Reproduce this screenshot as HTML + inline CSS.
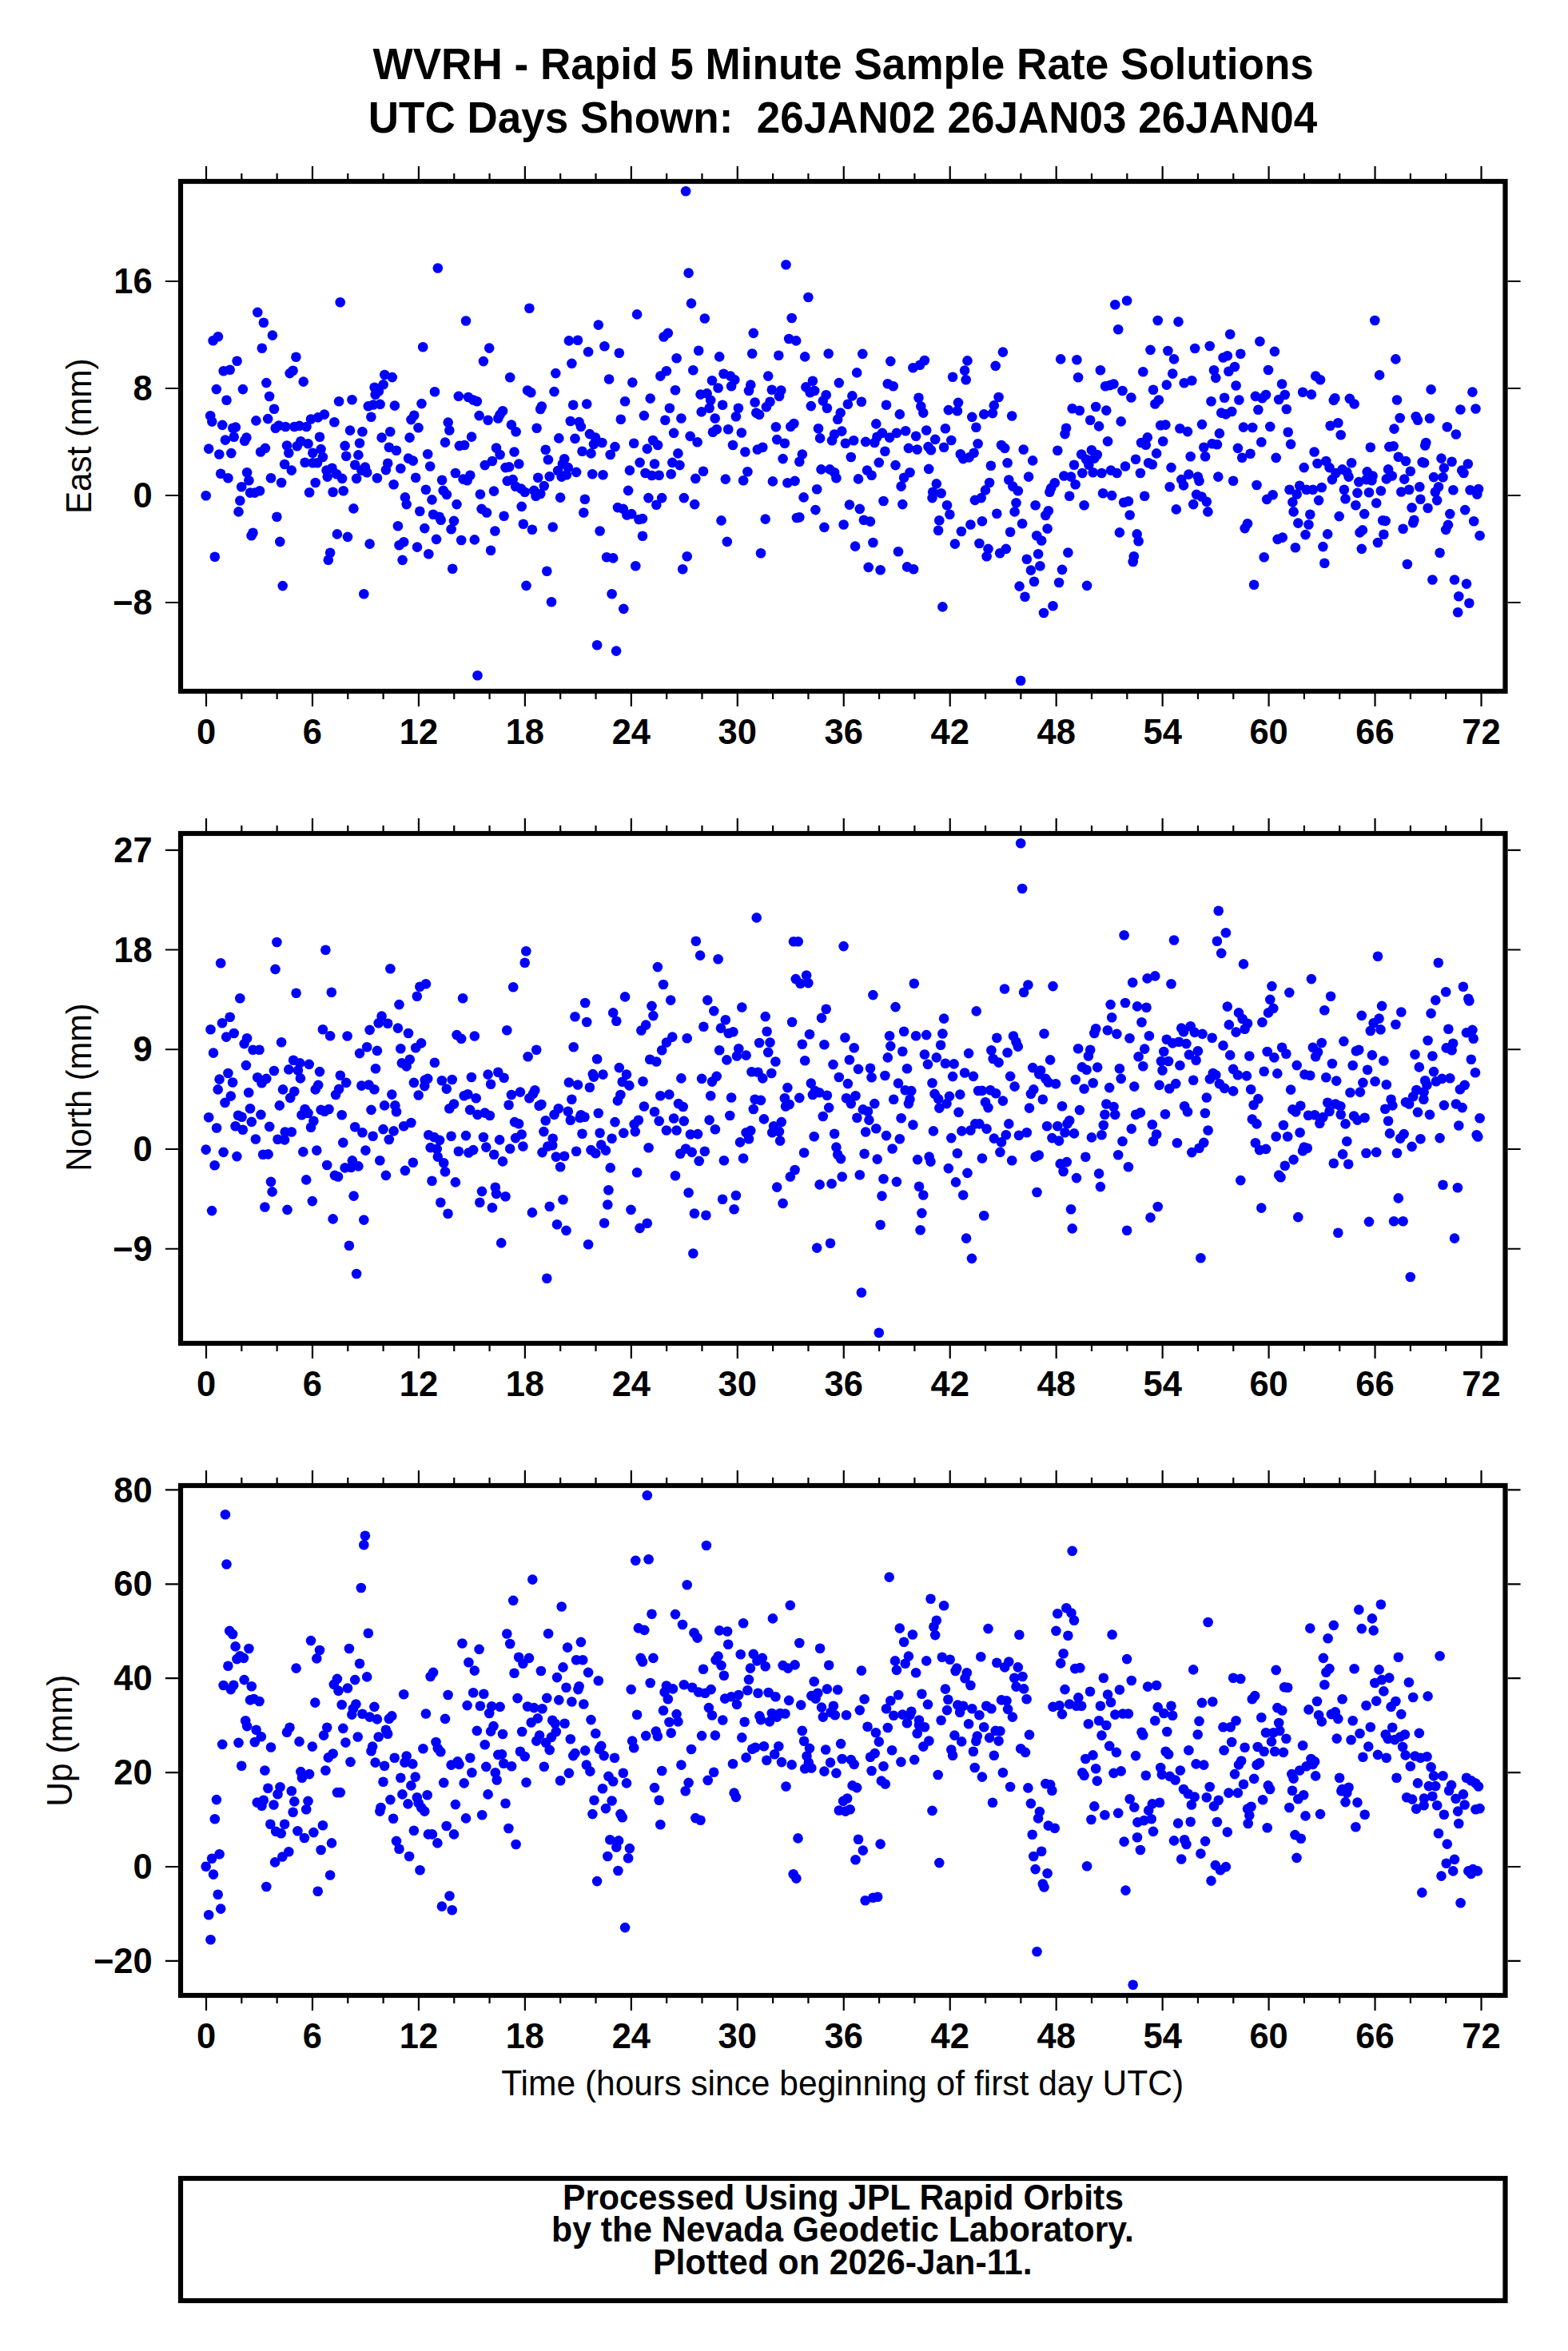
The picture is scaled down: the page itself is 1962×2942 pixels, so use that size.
<!DOCTYPE html>
<html><head><meta charset="utf-8"><style>
html,body{margin:0;padding:0;background:#fff;width:1962px;height:2942px;overflow:hidden}
svg{display:block}
</style></head><body>
<svg width="1962" height="2942" viewBox="0 0 1962 2942"><rect width="100%" height="100%" fill="#fff"/><g font-family="&quot;Liberation Sans&quot;, sans-serif" fill="#000"><text transform="matrix(0.53118 0 0 0.56377 466.50 98.90)" font-size="100" font-weight="bold" xml:space="preserve">WVRH - Rapid 5 Minute Sample Rate Solutions</text><text transform="matrix(0.53023 0 0 0.56377 460.82 165.90)" font-size="100" font-weight="bold" xml:space="preserve">UTC Days Shown:  26JAN02 26JAN03 26JAN04</text><text transform="matrix(0.42535 0 0 0.45072 627.15 2621.90)" font-size="100" font-weight="normal" xml:space="preserve">Time (hours since beginning of first day UTC)</text><text transform="matrix(0.42578 0 0 0.44638 704.02 2764.80)" font-size="100" font-weight="bold" xml:space="preserve">Processed Using JPL Rapid Orbits</text><text transform="matrix(0.42781 0 0 0.44638 690.01 2804.80)" font-size="100" font-weight="bold" xml:space="preserve">by the Nevada Geodetic Laboratory.</text><text transform="matrix(0.42714 0 0 0.44928 817.01 2846.00)" font-size="100" font-weight="bold" xml:space="preserve">Plotted on 2026-Jan-11.</text><text transform="matrix(0 -0.42215 0.44638 0 114.00 643.08)" font-size="100" font-weight="normal" xml:space="preserve">East (mm)</text><text transform="matrix(0 -0.41609 0.44493 0 113.80 1465.63)" font-size="100" font-weight="normal" xml:space="preserve">North (mm)</text><text transform="matrix(0 -0.42480 0.44928 0 90.00 2260.70)" font-size="100" font-weight="normal" xml:space="preserve">Up (mm)</text></g><path d="M258.00 223.90V207.90M258.00 868.10V884.10M302.32 223.90V216.90M302.32 868.10V875.10M346.64 223.90V216.90M346.64 868.10V875.10M390.96 223.90V207.90M390.96 868.10V884.10M435.28 223.90V216.90M435.28 868.10V875.10M479.60 223.90V216.90M479.60 868.10V875.10M523.92 223.90V207.90M523.92 868.10V884.10M568.24 223.90V216.90M568.24 868.10V875.10M612.56 223.90V216.90M612.56 868.10V875.10M656.88 223.90V207.90M656.88 868.10V884.10M701.20 223.90V216.90M701.20 868.10V875.10M745.52 223.90V216.90M745.52 868.10V875.10M789.84 223.90V207.90M789.84 868.10V884.10M834.16 223.90V216.90M834.16 868.10V875.10M878.48 223.90V216.90M878.48 868.10V875.10M922.80 223.90V207.90M922.80 868.10V884.10M967.12 223.90V216.90M967.12 868.10V875.10M1011.44 223.90V216.90M1011.44 868.10V875.10M1055.76 223.90V207.90M1055.76 868.10V884.10M1100.08 223.90V216.90M1100.08 868.10V875.10M1144.40 223.90V216.90M1144.40 868.10V875.10M1188.72 223.90V207.90M1188.72 868.10V884.10M1233.04 223.90V216.90M1233.04 868.10V875.10M1277.36 223.90V216.90M1277.36 868.10V875.10M1321.68 223.90V207.90M1321.68 868.10V884.10M1366.00 223.90V216.90M1366.00 868.10V875.10M1410.32 223.90V216.90M1410.32 868.10V875.10M1454.64 223.90V207.90M1454.64 868.10V884.10M1498.96 223.90V216.90M1498.96 868.10V875.10M1543.28 223.90V216.90M1543.28 868.10V875.10M1587.60 223.90V207.90M1587.60 868.10V884.10M1631.92 223.90V216.90M1631.92 868.10V875.10M1676.24 223.90V216.90M1676.24 868.10V875.10M1720.56 223.90V207.90M1720.56 868.10V884.10M1764.88 223.90V216.90M1764.88 868.10V875.10M1809.20 223.90V216.90M1809.20 868.10V875.10M1853.52 223.90V207.90M1853.52 868.10V884.10M222.90 352.00H206.90M1886.60 352.00H1902.60M222.90 486.00H206.90M1886.60 486.00H1902.60M222.90 620.00H206.90M1886.60 620.00H1902.60M222.90 754.00H206.90M1886.60 754.00H1902.60" stroke="#000" stroke-width="2.2" fill="none"/><g fill="#0000ff"><circle cx="547.8" cy="335.5" r="6.3"/><circle cx="425.7" cy="378.2" r="6.3"/><circle cx="322.3" cy="390.9" r="6.3"/><circle cx="329.9" cy="403.7" r="6.3"/><circle cx="340.9" cy="419.6" r="6.3"/><circle cx="272.9" cy="421.3" r="6.3"/><circle cx="266.6" cy="426.3" r="6.3"/><circle cx="327.8" cy="435.8" r="6.3"/><circle cx="529.2" cy="434.3" r="6.3"/><circle cx="370.4" cy="446.8" r="6.3"/><circle cx="296.6" cy="451.7" r="6.3"/><circle cx="279.7" cy="464.3" r="6.3"/><circle cx="287.7" cy="462.8" r="6.3"/><circle cx="366.6" cy="463.7" r="6.3"/><circle cx="362.6" cy="467.1" r="6.3"/><circle cx="379.7" cy="477.6" r="6.3"/><circle cx="333.3" cy="479.1" r="6.3"/><circle cx="481.3" cy="469.0" r="6.3"/><circle cx="490.8" cy="472.1" r="6.3"/><circle cx="479.6" cy="481.2" r="6.3"/><circle cx="468.6" cy="484.8" r="6.3"/><circle cx="473.9" cy="489.6" r="6.3"/><circle cx="469.7" cy="493.9" r="6.3"/><circle cx="270.8" cy="487.1" r="6.3"/><circle cx="303.9" cy="487.1" r="6.3"/><circle cx="283.5" cy="500.8" r="6.3"/><circle cx="337.1" cy="496.0" r="6.3"/><circle cx="544.0" cy="490.3" r="6.3"/><circle cx="424.1" cy="502.3" r="6.3"/><circle cx="440.5" cy="500.2" r="6.3"/><circle cx="460.8" cy="508.2" r="6.3"/><circle cx="467.1" cy="506.5" r="6.3"/><circle cx="475.6" cy="505.9" r="6.3"/><circle cx="493.9" cy="507.6" r="6.3"/><circle cx="527.5" cy="505.1" r="6.3"/><circle cx="343.0" cy="511.8" r="6.3"/><circle cx="518.2" cy="519.8" r="6.3"/><circle cx="514.4" cy="525.1" r="6.3"/><circle cx="263.2" cy="520.3" r="6.3"/><circle cx="265.3" cy="527.6" r="6.3"/><circle cx="320.4" cy="526.4" r="6.3"/><circle cx="335.2" cy="524.1" r="6.3"/><circle cx="405.9" cy="518.6" r="6.3"/><circle cx="397.9" cy="522.4" r="6.3"/><circle cx="389.0" cy="524.5" r="6.3"/><circle cx="418.4" cy="528.3" r="6.3"/><circle cx="464.4" cy="521.7" r="6.3"/><circle cx="278.2" cy="531.9" r="6.3"/><circle cx="291.3" cy="535.7" r="6.3"/><circle cx="294.9" cy="534.6" r="6.3"/><circle cx="344.7" cy="535.7" r="6.3"/><circle cx="348.9" cy="532.5" r="6.3"/><circle cx="357.3" cy="534.0" r="6.3"/><circle cx="368.3" cy="534.0" r="6.3"/><circle cx="374.7" cy="532.9" r="6.3"/><circle cx="383.5" cy="534.0" r="6.3"/><circle cx="438.0" cy="538.6" r="6.3"/><circle cx="453.4" cy="540.3" r="6.3"/><circle cx="488.2" cy="540.3" r="6.3"/><circle cx="523.5" cy="535.2" r="6.3"/><circle cx="281.9" cy="550.6" r="6.3"/><circle cx="292.7" cy="546.7" r="6.3"/><circle cx="306.1" cy="551.7" r="6.3"/><circle cx="308.4" cy="547.6" r="6.3"/><circle cx="400.0" cy="546.7" r="6.3"/><circle cx="450.0" cy="554.5" r="6.3"/><circle cx="477.6" cy="547.6" r="6.3"/><circle cx="512.6" cy="547.6" r="6.3"/><circle cx="557.0" cy="553.6" r="6.3"/><circle cx="261.2" cy="561.6" r="6.3"/><circle cx="274.3" cy="568.5" r="6.3"/><circle cx="289.3" cy="567.1" r="6.3"/><circle cx="326.1" cy="565.5" r="6.3"/><circle cx="331.9" cy="560.9" r="6.3"/><circle cx="359.0" cy="557.5" r="6.3"/><circle cx="361.3" cy="566.7" r="6.3"/><circle cx="371.7" cy="558.2" r="6.3"/><circle cx="376.3" cy="552.2" r="6.3"/><circle cx="385.5" cy="555.2" r="6.3"/><circle cx="391.3" cy="566.7" r="6.3"/><circle cx="401.6" cy="562.1" r="6.3"/><circle cx="403.9" cy="572.0" r="6.3"/><circle cx="431.6" cy="557.9" r="6.3"/><circle cx="433.2" cy="570.8" r="6.3"/><circle cx="448.4" cy="569.4" r="6.3"/><circle cx="486.8" cy="559.8" r="6.3"/><circle cx="496.0" cy="563.7" r="6.3"/><circle cx="511.0" cy="573.6" r="6.3"/><circle cx="516.8" cy="576.6" r="6.3"/><circle cx="535.2" cy="568.3" r="6.3"/><circle cx="538.2" cy="583.5" r="6.3"/><circle cx="356.1" cy="581.0" r="6.3"/><circle cx="364.8" cy="588.6" r="6.3"/><circle cx="381.6" cy="578.7" r="6.3"/><circle cx="391.3" cy="579.3" r="6.3"/><circle cx="397.0" cy="579.3" r="6.3"/><circle cx="408.5" cy="588.6" r="6.3"/><circle cx="415.5" cy="585.8" r="6.3"/><circle cx="409.7" cy="596.6" r="6.3"/><circle cx="421.2" cy="593.2" r="6.3"/><circle cx="428.1" cy="598.9" r="6.3"/><circle cx="444.2" cy="581.7" r="6.3"/><circle cx="456.9" cy="584.6" r="6.3"/><circle cx="452.3" cy="588.6" r="6.3"/><circle cx="459.2" cy="591.3" r="6.3"/><circle cx="446.1" cy="598.9" r="6.3"/><circle cx="471.9" cy="598.2" r="6.3"/><circle cx="485.2" cy="579.8" r="6.3"/><circle cx="482.9" cy="588.1" r="6.3"/><circle cx="501.3" cy="586.3" r="6.3"/><circle cx="520.2" cy="597.8" r="6.3"/><circle cx="276.2" cy="592.7" r="6.3"/><circle cx="285.4" cy="598.2" r="6.3"/><circle cx="309.1" cy="591.3" r="6.3"/><circle cx="311.4" cy="601.2" r="6.3"/><circle cx="339.0" cy="598.2" r="6.3"/><circle cx="352.1" cy="604.0" r="6.3"/><circle cx="553.1" cy="600.8" r="6.3"/><circle cx="394.7" cy="604.0" r="6.3"/><circle cx="387.1" cy="616.2" r="6.3"/><circle cx="416.6" cy="615.7" r="6.3"/><circle cx="429.7" cy="614.3" r="6.3"/><circle cx="492.6" cy="606.3" r="6.3"/><circle cx="532.9" cy="612.7" r="6.3"/><circle cx="554.7" cy="613.9" r="6.3"/><circle cx="558.9" cy="618.9" r="6.3"/><circle cx="302.2" cy="609.3" r="6.3"/><circle cx="313.0" cy="616.6" r="6.3"/><circle cx="318.8" cy="616.6" r="6.3"/><circle cx="325.0" cy="614.3" r="6.3"/><circle cx="257.7" cy="620.3" r="6.3"/><circle cx="506.9" cy="622.4" r="6.3"/><circle cx="508.7" cy="631.1" r="6.3"/><circle cx="540.5" cy="625.4" r="6.3"/><circle cx="300.3" cy="626.5" r="6.3"/><circle cx="298.5" cy="640.4" r="6.3"/><circle cx="346.4" cy="646.8" r="6.3"/><circle cx="442.4" cy="636.4" r="6.3"/><circle cx="525.3" cy="639.7" r="6.3"/><circle cx="542.1" cy="643.8" r="6.3"/><circle cx="549.7" cy="646.8" r="6.3"/><circle cx="551.7" cy="650.7" r="6.3"/><circle cx="497.9" cy="658.3" r="6.3"/><circle cx="531.3" cy="661.1" r="6.3"/><circle cx="316.5" cy="666.8" r="6.3"/><circle cx="314.6" cy="670.3" r="6.3"/><circle cx="421.9" cy="668.4" r="6.3"/><circle cx="435.0" cy="671.9" r="6.3"/><circle cx="350.3" cy="677.9" r="6.3"/><circle cx="462.6" cy="680.6" r="6.3"/><circle cx="499.5" cy="682.3" r="6.3"/><circle cx="505.2" cy="678.3" r="6.3"/><circle cx="522.0" cy="684.6" r="6.3"/><circle cx="546.0" cy="674.9" r="6.3"/><circle cx="413.1" cy="691.7" r="6.3"/><circle cx="410.8" cy="700.7" r="6.3"/><circle cx="268.8" cy="696.8" r="6.3"/><circle cx="503.6" cy="700.9" r="6.3"/><circle cx="536.3" cy="693.3" r="6.3"/><circle cx="353.7" cy="733.1" r="6.3"/><circle cx="455.3" cy="743.3" r="6.3"/><circle cx="858.1" cy="239.2" r="6.3"/><circle cx="861.6" cy="341.6" r="6.3"/><circle cx="865.0" cy="379.6" r="6.3"/><circle cx="881.8" cy="398.5" r="6.3"/><circle cx="662.4" cy="385.8" r="6.3"/><circle cx="583.0" cy="401.5" r="6.3"/><circle cx="797.1" cy="393.4" r="6.3"/><circle cx="748.8" cy="406.6" r="6.3"/><circle cx="830.5" cy="421.5" r="6.3"/><circle cx="835.8" cy="416.9" r="6.3"/><circle cx="711.9" cy="426.4" r="6.3"/><circle cx="723.0" cy="425.7" r="6.3"/><circle cx="756.4" cy="433.3" r="6.3"/><circle cx="736.1" cy="440.2" r="6.3"/><circle cx="774.8" cy="441.8" r="6.3"/><circle cx="612.2" cy="435.6" r="6.3"/><circle cx="604.9" cy="452.1" r="6.3"/><circle cx="874.2" cy="438.8" r="6.3"/><circle cx="846.6" cy="448.2" r="6.3"/><circle cx="715.4" cy="454.9" r="6.3"/><circle cx="695.3" cy="467.1" r="6.3"/><circle cx="638.2" cy="472.2" r="6.3"/><circle cx="867.3" cy="463.2" r="6.3"/><circle cx="833.9" cy="464.3" r="6.3"/><circle cx="826.3" cy="470.6" r="6.3"/><circle cx="762.1" cy="474.5" r="6.3"/><circle cx="791.3" cy="478.6" r="6.3"/><circle cx="891.0" cy="476.3" r="6.3"/><circle cx="660.1" cy="488.5" r="6.3"/><circle cx="664.3" cy="491.3" r="6.3"/><circle cx="693.5" cy="490.1" r="6.3"/><circle cx="573.8" cy="495.9" r="6.3"/><circle cx="586.0" cy="497.0" r="6.3"/><circle cx="592.2" cy="500.5" r="6.3"/><circle cx="596.8" cy="502.3" r="6.3"/><circle cx="845.0" cy="488.3" r="6.3"/><circle cx="876.5" cy="493.6" r="6.3"/><circle cx="884.6" cy="492.4" r="6.3"/><circle cx="889.2" cy="500.9" r="6.3"/><circle cx="887.6" cy="510.8" r="6.3"/><circle cx="782.1" cy="502.3" r="6.3"/><circle cx="813.7" cy="498.6" r="6.3"/><circle cx="717.2" cy="506.7" r="6.3"/><circle cx="734.2" cy="505.5" r="6.3"/><circle cx="677.8" cy="508.5" r="6.3"/><circle cx="676.2" cy="512.0" r="6.3"/><circle cx="837.9" cy="510.8" r="6.3"/><circle cx="629.0" cy="514.3" r="6.3"/><circle cx="625.6" cy="518.9" r="6.3"/><circle cx="623.3" cy="523.5" r="6.3"/><circle cx="599.6" cy="520.1" r="6.3"/><circle cx="610.6" cy="525.8" r="6.3"/><circle cx="560.7" cy="528.6" r="6.3"/><circle cx="562.3" cy="538.5" r="6.3"/><circle cx="877.7" cy="515.4" r="6.3"/><circle cx="894.7" cy="523.5" r="6.3"/><circle cx="852.4" cy="523.5" r="6.3"/><circle cx="832.3" cy="525.8" r="6.3"/><circle cx="805.9" cy="520.1" r="6.3"/><circle cx="776.8" cy="524.7" r="6.3"/><circle cx="713.8" cy="527.0" r="6.3"/><circle cx="724.6" cy="528.1" r="6.3"/><circle cx="726.9" cy="533.9" r="6.3"/><circle cx="639.9" cy="531.6" r="6.3"/><circle cx="645.6" cy="540.3" r="6.3"/><circle cx="671.6" cy="535.7" r="6.3"/><circle cx="843.1" cy="541.9" r="6.3"/><circle cx="863.6" cy="545.9" r="6.3"/><circle cx="892.0" cy="540.8" r="6.3"/><circle cx="896.8" cy="537.3" r="6.3"/><circle cx="737.9" cy="543.1" r="6.3"/><circle cx="745.1" cy="547.6" r="6.3"/><circle cx="590.1" cy="546.6" r="6.3"/><circle cx="699.3" cy="548.4" r="6.3"/><circle cx="719.5" cy="548.9" r="6.3"/><circle cx="574.9" cy="557.9" r="6.3"/><circle cx="581.1" cy="557.0" r="6.3"/><circle cx="621.0" cy="560.5" r="6.3"/><circle cx="625.6" cy="569.0" r="6.3"/><circle cx="643.5" cy="565.5" r="6.3"/><circle cx="682.7" cy="562.8" r="6.3"/><circle cx="743.0" cy="555.9" r="6.3"/><circle cx="753.4" cy="554.0" r="6.3"/><circle cx="769.5" cy="559.1" r="6.3"/><circle cx="728.5" cy="564.8" r="6.3"/><circle cx="739.5" cy="567.4" r="6.3"/><circle cx="763.7" cy="569.0" r="6.3"/><circle cx="793.2" cy="554.7" r="6.3"/><circle cx="817.1" cy="551.0" r="6.3"/><circle cx="823.1" cy="557.0" r="6.3"/><circle cx="809.8" cy="561.6" r="6.3"/><circle cx="872.6" cy="553.3" r="6.3"/><circle cx="848.4" cy="567.4" r="6.3"/><circle cx="606.7" cy="582.1" r="6.3"/><circle cx="615.9" cy="577.0" r="6.3"/><circle cx="632.5" cy="585.1" r="6.3"/><circle cx="637.1" cy="584.4" r="6.3"/><circle cx="649.3" cy="580.5" r="6.3"/><circle cx="569.9" cy="592.0" r="6.3"/><circle cx="579.5" cy="599.6" r="6.3"/><circle cx="584.6" cy="601.2" r="6.3"/><circle cx="588.3" cy="594.8" r="6.3"/><circle cx="634.8" cy="601.9" r="6.3"/><circle cx="641.7" cy="600.1" r="6.3"/><circle cx="645.1" cy="608.8" r="6.3"/><circle cx="652.1" cy="611.6" r="6.3"/><circle cx="656.7" cy="615.7" r="6.3"/><circle cx="668.2" cy="613.9" r="6.3"/><circle cx="670.5" cy="620.8" r="6.3"/><circle cx="676.2" cy="618.0" r="6.3"/><circle cx="680.8" cy="608.1" r="6.3"/><circle cx="673.2" cy="597.8" r="6.3"/><circle cx="687.7" cy="596.2" r="6.3"/><circle cx="685.9" cy="575.2" r="6.3"/><circle cx="706.2" cy="574.3" r="6.3"/><circle cx="703.9" cy="580.5" r="6.3"/><circle cx="710.8" cy="585.1" r="6.3"/><circle cx="698.1" cy="589.0" r="6.3"/><circle cx="702.7" cy="596.6" r="6.3"/><circle cx="708.9" cy="594.3" r="6.3"/><circle cx="721.1" cy="590.9" r="6.3"/><circle cx="741.2" cy="593.2" r="6.3"/><circle cx="754.5" cy="594.3" r="6.3"/><circle cx="787.9" cy="588.6" r="6.3"/><circle cx="800.6" cy="578.9" r="6.3"/><circle cx="819.0" cy="580.5" r="6.3"/><circle cx="807.5" cy="592.0" r="6.3"/><circle cx="815.5" cy="595.0" r="6.3"/><circle cx="824.7" cy="594.8" r="6.3"/><circle cx="839.7" cy="593.2" r="6.3"/><circle cx="841.3" cy="578.9" r="6.3"/><circle cx="850.5" cy="582.1" r="6.3"/><circle cx="880.0" cy="589.7" r="6.3"/><circle cx="870.3" cy="598.9" r="6.3"/><circle cx="600.9" cy="618.5" r="6.3"/><circle cx="618.0" cy="614.6" r="6.3"/><circle cx="571.5" cy="631.1" r="6.3"/><circle cx="701.1" cy="622.6" r="6.3"/><circle cx="731.9" cy="624.7" r="6.3"/><circle cx="786.1" cy="613.9" r="6.3"/><circle cx="811.4" cy="623.1" r="6.3"/><circle cx="828.2" cy="623.1" r="6.3"/><circle cx="821.3" cy="631.8" r="6.3"/><circle cx="855.8" cy="623.1" r="6.3"/><circle cx="869.2" cy="631.1" r="6.3"/><circle cx="602.6" cy="636.9" r="6.3"/><circle cx="609.0" cy="641.5" r="6.3"/><circle cx="630.6" cy="645.7" r="6.3"/><circle cx="652.7" cy="633.9" r="6.3"/><circle cx="568.0" cy="651.9" r="6.3"/><circle cx="564.6" cy="662.2" r="6.3"/><circle cx="730.3" cy="641.5" r="6.3"/><circle cx="772.9" cy="635.1" r="6.3"/><circle cx="779.8" cy="636.9" r="6.3"/><circle cx="784.4" cy="644.5" r="6.3"/><circle cx="790.2" cy="643.1" r="6.3"/><circle cx="799.4" cy="650.0" r="6.3"/><circle cx="804.0" cy="649.1" r="6.3"/><circle cx="654.8" cy="655.8" r="6.3"/><circle cx="665.9" cy="662.7" r="6.3"/><circle cx="691.7" cy="659.5" r="6.3"/><circle cx="619.4" cy="664.5" r="6.3"/><circle cx="750.6" cy="664.5" r="6.3"/><circle cx="804.0" cy="670.7" r="6.3"/><circle cx="577.2" cy="676.0" r="6.3"/><circle cx="593.8" cy="675.4" r="6.3"/><circle cx="614.1" cy="688.7" r="6.3"/><circle cx="759.1" cy="697.2" r="6.3"/><circle cx="767.2" cy="698.4" r="6.3"/><circle cx="859.7" cy="696.3" r="6.3"/><circle cx="795.3" cy="708.3" r="6.3"/><circle cx="854.2" cy="712.2" r="6.3"/><circle cx="566.2" cy="711.7" r="6.3"/><circle cx="684.3" cy="714.7" r="6.3"/><circle cx="658.5" cy="732.9" r="6.3"/><circle cx="765.6" cy="743.3" r="6.3"/><circle cx="690.0" cy="753.2" r="6.3"/><circle cx="780.3" cy="761.9" r="6.3"/><circle cx="747.1" cy="807.3" r="6.3"/><circle cx="771.1" cy="814.6" r="6.3"/><circle cx="597.5" cy="845.3" r="6.3"/><circle cx="983.5" cy="331.3" r="6.3"/><circle cx="1011.4" cy="372.0" r="6.3"/><circle cx="990.7" cy="398.0" r="6.3"/><circle cx="942.8" cy="416.9" r="6.3"/><circle cx="987.2" cy="424.0" r="6.3"/><circle cx="996.2" cy="426.4" r="6.3"/><circle cx="900.2" cy="446.4" r="6.3"/><circle cx="941.2" cy="442.5" r="6.3"/><circle cx="974.3" cy="444.8" r="6.3"/><circle cx="1007.2" cy="446.4" r="6.3"/><circle cx="1036.7" cy="442.5" r="6.3"/><circle cx="1079.3" cy="442.9" r="6.3"/><circle cx="1114.3" cy="452.1" r="6.3"/><circle cx="1142.4" cy="460.2" r="6.3"/><circle cx="1151.1" cy="456.7" r="6.3"/><circle cx="1156.9" cy="451.0" r="6.3"/><circle cx="1210.5" cy="451.4" r="6.3"/><circle cx="1207.1" cy="463.6" r="6.3"/><circle cx="1208.7" cy="475.2" r="6.3"/><circle cx="1192.1" cy="471.7" r="6.3"/><circle cx="1072.2" cy="466.4" r="6.3"/><circle cx="905.5" cy="467.8" r="6.3"/><circle cx="914.0" cy="470.6" r="6.3"/><circle cx="919.3" cy="475.2" r="6.3"/><circle cx="915.1" cy="483.2" r="6.3"/><circle cx="898.6" cy="485.5" r="6.3"/><circle cx="961.2" cy="470.6" r="6.3"/><circle cx="939.3" cy="481.6" r="6.3"/><circle cx="937.0" cy="489.0" r="6.3"/><circle cx="1016.9" cy="476.8" r="6.3"/><circle cx="1008.4" cy="484.4" r="6.3"/><circle cx="1013.7" cy="491.3" r="6.3"/><circle cx="1019.2" cy="489.0" r="6.3"/><circle cx="965.8" cy="487.8" r="6.3"/><circle cx="977.3" cy="488.5" r="6.3"/><circle cx="975.0" cy="495.9" r="6.3"/><circle cx="1049.8" cy="479.1" r="6.3"/><circle cx="1110.8" cy="480.2" r="6.3"/><circle cx="1117.7" cy="483.2" r="6.3"/><circle cx="1149.5" cy="497.7" r="6.3"/><circle cx="1152.3" cy="508.5" r="6.3"/><circle cx="1155.3" cy="516.6" r="6.3"/><circle cx="1033.7" cy="494.3" r="6.3"/><circle cx="1029.8" cy="501.6" r="6.3"/><circle cx="1034.9" cy="510.8" r="6.3"/><circle cx="1066.4" cy="495.4" r="6.3"/><circle cx="1077.9" cy="502.8" r="6.3"/><circle cx="1060.9" cy="505.8" r="6.3"/><circle cx="1109.0" cy="506.7" r="6.3"/><circle cx="1199.0" cy="503.9" r="6.3"/><circle cx="1186.8" cy="513.1" r="6.3"/><circle cx="1197.9" cy="514.3" r="6.3"/><circle cx="904.1" cy="506.7" r="6.3"/><circle cx="923.9" cy="510.8" r="6.3"/><circle cx="920.9" cy="521.2" r="6.3"/><circle cx="944.6" cy="503.5" r="6.3"/><circle cx="963.5" cy="502.8" r="6.3"/><circle cx="958.9" cy="509.2" r="6.3"/><circle cx="946.2" cy="516.6" r="6.3"/><circle cx="950.1" cy="518.9" r="6.3"/><circle cx="1014.8" cy="508.1" r="6.3"/><circle cx="1051.7" cy="516.6" r="6.3"/><circle cx="1048.2" cy="524.7" r="6.3"/><circle cx="1125.8" cy="518.4" r="6.3"/><circle cx="1216.3" cy="521.9" r="6.3"/><circle cx="911.2" cy="537.3" r="6.3"/><circle cx="927.8" cy="541.5" r="6.3"/><circle cx="970.9" cy="534.3" r="6.3"/><circle cx="989.3" cy="533.9" r="6.3"/><circle cx="993.4" cy="530.0" r="6.3"/><circle cx="1024.0" cy="536.2" r="6.3"/><circle cx="1096.3" cy="530.4" r="6.3"/><circle cx="1221.4" cy="534.8" r="6.3"/><circle cx="1182.9" cy="536.2" r="6.3"/><circle cx="1159.2" cy="538.5" r="6.3"/><circle cx="1133.2" cy="539.2" r="6.3"/><circle cx="1121.9" cy="541.9" r="6.3"/><circle cx="1103.9" cy="541.9" r="6.3"/><circle cx="1097.4" cy="546.8" r="6.3"/><circle cx="1113.1" cy="547.6" r="6.3"/><circle cx="1146.1" cy="545.7" r="6.3"/><circle cx="1026.1" cy="548.4" r="6.3"/><circle cx="1044.1" cy="543.5" r="6.3"/><circle cx="1053.3" cy="539.6" r="6.3"/><circle cx="1041.1" cy="551.3" r="6.3"/><circle cx="1057.9" cy="554.7" r="6.3"/><circle cx="1068.2" cy="551.3" r="6.3"/><circle cx="1083.2" cy="552.9" r="6.3"/><circle cx="1094.3" cy="554.0" r="6.3"/><circle cx="1170.2" cy="549.9" r="6.3"/><circle cx="1190.3" cy="551.0" r="6.3"/><circle cx="1223.6" cy="555.2" r="6.3"/><circle cx="917.0" cy="557.0" r="6.3"/><circle cx="932.4" cy="565.5" r="6.3"/><circle cx="947.8" cy="562.5" r="6.3"/><circle cx="954.3" cy="559.8" r="6.3"/><circle cx="972.2" cy="550.1" r="6.3"/><circle cx="981.9" cy="554.7" r="6.3"/><circle cx="979.6" cy="574.1" r="6.3"/><circle cx="1003.8" cy="568.5" r="6.3"/><circle cx="1000.3" cy="577.7" r="6.3"/><circle cx="1064.8" cy="572.0" r="6.3"/><circle cx="1107.4" cy="564.8" r="6.3"/><circle cx="1136.9" cy="560.9" r="6.3"/><circle cx="1147.7" cy="562.5" r="6.3"/><circle cx="1161.5" cy="559.1" r="6.3"/><circle cx="1164.9" cy="563.2" r="6.3"/><circle cx="1181.1" cy="559.8" r="6.3"/><circle cx="1201.8" cy="568.3" r="6.3"/><circle cx="1205.2" cy="574.1" r="6.3"/><circle cx="1212.6" cy="572.4" r="6.3"/><circle cx="1218.6" cy="566.7" r="6.3"/><circle cx="935.4" cy="590.2" r="6.3"/><circle cx="907.8" cy="599.6" r="6.3"/><circle cx="930.1" cy="601.2" r="6.3"/><circle cx="966.9" cy="602.4" r="6.3"/><circle cx="985.4" cy="604.2" r="6.3"/><circle cx="994.6" cy="601.9" r="6.3"/><circle cx="1027.5" cy="587.4" r="6.3"/><circle cx="1038.3" cy="587.4" r="6.3"/><circle cx="1044.1" cy="591.3" r="6.3"/><circle cx="1046.4" cy="598.2" r="6.3"/><circle cx="1074.0" cy="599.4" r="6.3"/><circle cx="1085.0" cy="588.6" r="6.3"/><circle cx="1090.6" cy="594.8" r="6.3"/><circle cx="1099.8" cy="578.9" r="6.3"/><circle cx="1120.5" cy="582.1" r="6.3"/><circle cx="1138.5" cy="591.3" r="6.3"/><circle cx="1131.1" cy="597.8" r="6.3"/><circle cx="1127.6" cy="608.6" r="6.3"/><circle cx="1162.2" cy="586.9" r="6.3"/><circle cx="1171.8" cy="605.4" r="6.3"/><circle cx="1167.2" cy="615.7" r="6.3"/><circle cx="1177.6" cy="617.3" r="6.3"/><circle cx="1166.5" cy="623.1" r="6.3"/><circle cx="1185.0" cy="632.3" r="6.3"/><circle cx="1188.4" cy="643.8" r="6.3"/><circle cx="1175.3" cy="651.2" r="6.3"/><circle cx="1174.1" cy="663.8" r="6.3"/><circle cx="1219.9" cy="625.9" r="6.3"/><circle cx="1022.2" cy="612.3" r="6.3"/><circle cx="1005.6" cy="622.4" r="6.3"/><circle cx="1020.4" cy="638.1" r="6.3"/><circle cx="1062.9" cy="631.6" r="6.3"/><circle cx="1075.8" cy="636.9" r="6.3"/><circle cx="1105.5" cy="627.0" r="6.3"/><circle cx="1129.3" cy="631.1" r="6.3"/><circle cx="902.5" cy="651.4" r="6.3"/><circle cx="957.7" cy="649.6" r="6.3"/><circle cx="1000.3" cy="647.3" r="6.3"/><circle cx="996.9" cy="648.0" r="6.3"/><circle cx="1031.4" cy="659.9" r="6.3"/><circle cx="1055.6" cy="656.5" r="6.3"/><circle cx="1080.9" cy="650.7" r="6.3"/><circle cx="1089.0" cy="652.6" r="6.3"/><circle cx="1214.4" cy="656.5" r="6.3"/><circle cx="1202.9" cy="665.0" r="6.3"/><circle cx="909.8" cy="677.9" r="6.3"/><circle cx="952.0" cy="692.2" r="6.3"/><circle cx="1070.1" cy="683.6" r="6.3"/><circle cx="1092.4" cy="679.0" r="6.3"/><circle cx="1124.0" cy="690.3" r="6.3"/><circle cx="1194.9" cy="680.6" r="6.3"/><circle cx="1086.7" cy="709.9" r="6.3"/><circle cx="1101.6" cy="713.3" r="6.3"/><circle cx="1135.0" cy="709.4" r="6.3"/><circle cx="1143.1" cy="712.2" r="6.3"/><circle cx="1179.4" cy="759.4" r="6.3"/><circle cx="1395.3" cy="381.2" r="6.3"/><circle cx="1410.1" cy="376.2" r="6.3"/><circle cx="1399.2" cy="412.3" r="6.3"/><circle cx="1448.7" cy="401.0" r="6.3"/><circle cx="1474.5" cy="402.6" r="6.3"/><circle cx="1539.2" cy="418.3" r="6.3"/><circle cx="1254.9" cy="440.6" r="6.3"/><circle cx="1245.7" cy="457.9" r="6.3"/><circle cx="1327.2" cy="449.4" r="6.3"/><circle cx="1347.4" cy="450.3" r="6.3"/><circle cx="1349.1" cy="472.2" r="6.3"/><circle cx="1376.9" cy="463.2" r="6.3"/><circle cx="1439.5" cy="437.9" r="6.3"/><circle cx="1461.4" cy="439.0" r="6.3"/><circle cx="1469.0" cy="449.4" r="6.3"/><circle cx="1495.2" cy="436.0" r="6.3"/><circle cx="1513.7" cy="433.0" r="6.3"/><circle cx="1530.5" cy="447.5" r="6.3"/><circle cx="1535.8" cy="445.2" r="6.3"/><circle cx="1552.3" cy="442.7" r="6.3"/><circle cx="1430.3" cy="465.3" r="6.3"/><circle cx="1467.2" cy="467.6" r="6.3"/><circle cx="1519.0" cy="463.2" r="6.3"/><circle cx="1521.3" cy="472.9" r="6.3"/><circle cx="1537.4" cy="464.8" r="6.3"/><circle cx="1545.0" cy="459.0" r="6.3"/><circle cx="1546.6" cy="482.5" r="6.3"/><circle cx="1383.1" cy="483.2" r="6.3"/><circle cx="1388.9" cy="482.1" r="6.3"/><circle cx="1393.5" cy="480.5" r="6.3"/><circle cx="1404.5" cy="489.0" r="6.3"/><circle cx="1415.4" cy="497.5" r="6.3"/><circle cx="1443.0" cy="487.8" r="6.3"/><circle cx="1459.8" cy="481.6" r="6.3"/><circle cx="1481.7" cy="479.3" r="6.3"/><circle cx="1491.3" cy="476.3" r="6.3"/><circle cx="1449.9" cy="500.5" r="6.3"/><circle cx="1445.3" cy="505.5" r="6.3"/><circle cx="1249.6" cy="497.0" r="6.3"/><circle cx="1243.8" cy="507.4" r="6.3"/><circle cx="1242.0" cy="517.1" r="6.3"/><circle cx="1231.2" cy="518.4" r="6.3"/><circle cx="1266.2" cy="520.5" r="6.3"/><circle cx="1341.7" cy="511.3" r="6.3"/><circle cx="1350.9" cy="513.8" r="6.3"/><circle cx="1371.2" cy="509.0" r="6.3"/><circle cx="1384.3" cy="513.6" r="6.3"/><circle cx="1364.2" cy="525.8" r="6.3"/><circle cx="1375.1" cy="533.4" r="6.3"/><circle cx="1402.7" cy="527.4" r="6.3"/><circle cx="1334.1" cy="535.7" r="6.3"/><circle cx="1332.5" cy="543.1" r="6.3"/><circle cx="1515.5" cy="502.3" r="6.3"/><circle cx="1532.1" cy="497.7" r="6.3"/><circle cx="1550.4" cy="500.5" r="6.3"/><circle cx="1528.2" cy="516.6" r="6.3"/><circle cx="1533.9" cy="518.4" r="6.3"/><circle cx="1541.3" cy="515.0" r="6.3"/><circle cx="1452.2" cy="532.3" r="6.3"/><circle cx="1458.4" cy="531.6" r="6.3"/><circle cx="1476.4" cy="536.2" r="6.3"/><circle cx="1486.0" cy="540.1" r="6.3"/><circle cx="1504.0" cy="531.1" r="6.3"/><circle cx="1525.9" cy="542.4" r="6.3"/><circle cx="1555.9" cy="534.6" r="6.3"/><circle cx="1435.8" cy="547.4" r="6.3"/><circle cx="1253.0" cy="557.0" r="6.3"/><circle cx="1257.2" cy="560.9" r="6.3"/><circle cx="1280.7" cy="562.5" r="6.3"/><circle cx="1292.2" cy="576.4" r="6.3"/><circle cx="1260.6" cy="579.3" r="6.3"/><circle cx="1239.9" cy="582.8" r="6.3"/><circle cx="1323.3" cy="563.7" r="6.3"/><circle cx="1386.1" cy="552.2" r="6.3"/><circle cx="1428.0" cy="554.0" r="6.3"/><circle cx="1433.8" cy="556.8" r="6.3"/><circle cx="1455.2" cy="552.2" r="6.3"/><circle cx="1447.1" cy="567.4" r="6.3"/><circle cx="1421.1" cy="574.7" r="6.3"/><circle cx="1437.2" cy="579.3" r="6.3"/><circle cx="1441.8" cy="581.2" r="6.3"/><circle cx="1408.0" cy="583.5" r="6.3"/><circle cx="1426.9" cy="592.0" r="6.3"/><circle cx="1465.5" cy="585.1" r="6.3"/><circle cx="1489.7" cy="571.3" r="6.3"/><circle cx="1506.3" cy="559.8" r="6.3"/><circle cx="1508.1" cy="571.3" r="6.3"/><circle cx="1516.7" cy="555.2" r="6.3"/><circle cx="1522.9" cy="556.3" r="6.3"/><circle cx="1548.9" cy="560.9" r="6.3"/><circle cx="1554.2" cy="572.7" r="6.3"/><circle cx="1353.2" cy="568.5" r="6.3"/><circle cx="1365.9" cy="563.2" r="6.3"/><circle cx="1372.8" cy="569.0" r="6.3"/><circle cx="1359.0" cy="574.7" r="6.3"/><circle cx="1369.3" cy="573.6" r="6.3"/><circle cx="1362.4" cy="581.7" r="6.3"/><circle cx="1344.0" cy="581.7" r="6.3"/><circle cx="1354.3" cy="592.0" r="6.3"/><circle cx="1367.7" cy="591.3" r="6.3"/><circle cx="1378.5" cy="592.0" r="6.3"/><circle cx="1390.0" cy="588.6" r="6.3"/><circle cx="1397.6" cy="592.0" r="6.3"/><circle cx="1331.3" cy="595.5" r="6.3"/><circle cx="1340.1" cy="596.6" r="6.3"/><circle cx="1345.6" cy="606.3" r="6.3"/><circle cx="1319.8" cy="604.2" r="6.3"/><circle cx="1315.2" cy="610.9" r="6.3"/><circle cx="1313.4" cy="615.7" r="6.3"/><circle cx="1287.1" cy="596.6" r="6.3"/><circle cx="1262.3" cy="600.5" r="6.3"/><circle cx="1267.3" cy="608.6" r="6.3"/><circle cx="1273.8" cy="614.3" r="6.3"/><circle cx="1238.1" cy="604.0" r="6.3"/><circle cx="1233.0" cy="613.4" r="6.3"/><circle cx="1227.7" cy="623.1" r="6.3"/><circle cx="1338.2" cy="620.8" r="6.3"/><circle cx="1380.1" cy="617.3" r="6.3"/><circle cx="1391.2" cy="620.1" r="6.3"/><circle cx="1406.1" cy="628.8" r="6.3"/><circle cx="1411.9" cy="627.2" r="6.3"/><circle cx="1432.2" cy="620.8" r="6.3"/><circle cx="1463.7" cy="609.3" r="6.3"/><circle cx="1478.2" cy="600.1" r="6.3"/><circle cx="1487.4" cy="593.6" r="6.3"/><circle cx="1481.0" cy="607.4" r="6.3"/><circle cx="1498.9" cy="596.6" r="6.3"/><circle cx="1500.5" cy="601.9" r="6.3"/><circle cx="1524.3" cy="596.6" r="6.3"/><circle cx="1543.1" cy="601.7" r="6.3"/><circle cx="1497.1" cy="618.9" r="6.3"/><circle cx="1503.5" cy="621.5" r="6.3"/><circle cx="1509.8" cy="627.7" r="6.3"/><circle cx="1493.2" cy="631.1" r="6.3"/><circle cx="1511.4" cy="640.4" r="6.3"/><circle cx="1471.8" cy="637.4" r="6.3"/><circle cx="1271.5" cy="629.3" r="6.3"/><circle cx="1269.6" cy="640.4" r="6.3"/><circle cx="1295.6" cy="632.3" r="6.3"/><circle cx="1311.8" cy="639.2" r="6.3"/><circle cx="1308.3" cy="645.0" r="6.3"/><circle cx="1356.6" cy="632.3" r="6.3"/><circle cx="1413.7" cy="644.5" r="6.3"/><circle cx="1247.3" cy="642.7" r="6.3"/><circle cx="1228.9" cy="652.3" r="6.3"/><circle cx="1279.1" cy="655.3" r="6.3"/><circle cx="1310.6" cy="661.5" r="6.3"/><circle cx="1264.1" cy="665.7" r="6.3"/><circle cx="1297.2" cy="670.3" r="6.3"/><circle cx="1303.2" cy="676.5" r="6.3"/><circle cx="1400.9" cy="666.4" r="6.3"/><circle cx="1422.7" cy="668.4" r="6.3"/><circle cx="1424.6" cy="677.2" r="6.3"/><circle cx="1225.4" cy="680.0" r="6.3"/><circle cx="1236.5" cy="686.9" r="6.3"/><circle cx="1234.6" cy="696.3" r="6.3"/><circle cx="1251.2" cy="692.2" r="6.3"/><circle cx="1258.8" cy="686.9" r="6.3"/><circle cx="1299.1" cy="693.3" r="6.3"/><circle cx="1284.8" cy="699.8" r="6.3"/><circle cx="1301.4" cy="708.3" r="6.3"/><circle cx="1289.9" cy="713.6" r="6.3"/><circle cx="1336.4" cy="691.5" r="6.3"/><circle cx="1329.0" cy="712.9" r="6.3"/><circle cx="1418.8" cy="696.3" r="6.3"/><circle cx="1417.7" cy="703.0" r="6.3"/><circle cx="1294.0" cy="727.8" r="6.3"/><circle cx="1325.1" cy="729.0" r="6.3"/><circle cx="1275.6" cy="733.6" r="6.3"/><circle cx="1360.1" cy="732.9" r="6.3"/><circle cx="1282.5" cy="746.7" r="6.3"/><circle cx="1317.5" cy="758.2" r="6.3"/><circle cx="1306.0" cy="767.0" r="6.3"/><circle cx="1277.2" cy="851.7" r="6.3"/><circle cx="1720.3" cy="401.0" r="6.3"/><circle cx="1576.4" cy="427.3" r="6.3"/><circle cx="1594.9" cy="439.9" r="6.3"/><circle cx="1746.4" cy="449.4" r="6.3"/><circle cx="1587.0" cy="463.0" r="6.3"/><circle cx="1726.1" cy="469.4" r="6.3"/><circle cx="1646.2" cy="470.6" r="6.3"/><circle cx="1652.0" cy="475.2" r="6.3"/><circle cx="1604.1" cy="480.5" r="6.3"/><circle cx="1790.6" cy="487.4" r="6.3"/><circle cx="1842.4" cy="490.6" r="6.3"/><circle cx="1570.9" cy="495.9" r="6.3"/><circle cx="1579.4" cy="498.2" r="6.3"/><circle cx="1584.0" cy="494.0" r="6.3"/><circle cx="1600.2" cy="500.0" r="6.3"/><circle cx="1607.8" cy="494.0" r="6.3"/><circle cx="1630.1" cy="490.8" r="6.3"/><circle cx="1640.9" cy="493.6" r="6.3"/><circle cx="1670.4" cy="498.2" r="6.3"/><circle cx="1668.8" cy="500.9" r="6.3"/><circle cx="1688.8" cy="498.9" r="6.3"/><circle cx="1694.6" cy="505.5" r="6.3"/><circle cx="1748.0" cy="500.5" r="6.3"/><circle cx="1574.4" cy="512.7" r="6.3"/><circle cx="1609.8" cy="512.0" r="6.3"/><circle cx="1827.4" cy="512.5" r="6.3"/><circle cx="1846.5" cy="511.5" r="6.3"/><circle cx="1751.7" cy="523.0" r="6.3"/><circle cx="1771.7" cy="521.2" r="6.3"/><circle cx="1774.0" cy="525.8" r="6.3"/><circle cx="1789.0" cy="523.5" r="6.3"/><circle cx="1567.2" cy="535.0" r="6.3"/><circle cx="1589.3" cy="533.9" r="6.3"/><circle cx="1611.7" cy="540.8" r="6.3"/><circle cx="1664.6" cy="532.7" r="6.3"/><circle cx="1674.3" cy="529.3" r="6.3"/><circle cx="1677.7" cy="544.2" r="6.3"/><circle cx="1744.5" cy="536.6" r="6.3"/><circle cx="1810.8" cy="534.3" r="6.3"/><circle cx="1821.9" cy="543.5" r="6.3"/><circle cx="1564.5" cy="567.8" r="6.3"/><circle cx="1578.3" cy="553.3" r="6.3"/><circle cx="1615.1" cy="555.9" r="6.3"/><circle cx="1596.7" cy="572.9" r="6.3"/><circle cx="1644.6" cy="565.5" r="6.3"/><circle cx="1714.8" cy="559.8" r="6.3"/><circle cx="1738.3" cy="559.1" r="6.3"/><circle cx="1743.6" cy="558.2" r="6.3"/><circle cx="1784.3" cy="554.0" r="6.3"/><circle cx="1783.2" cy="557.5" r="6.3"/><circle cx="1803.5" cy="573.6" r="6.3"/><circle cx="1816.6" cy="577.7" r="6.3"/><circle cx="1836.8" cy="580.5" r="6.3"/><circle cx="1749.8" cy="571.8" r="6.3"/><circle cx="1759.0" cy="577.0" r="6.3"/><circle cx="1779.7" cy="578.2" r="6.3"/><circle cx="1782.0" cy="579.3" r="6.3"/><circle cx="1631.7" cy="585.1" r="6.3"/><circle cx="1648.5" cy="580.0" r="6.3"/><circle cx="1659.3" cy="577.0" r="6.3"/><circle cx="1663.5" cy="585.1" r="6.3"/><circle cx="1691.1" cy="579.3" r="6.3"/><circle cx="1572.5" cy="607.0" r="6.3"/><circle cx="1671.5" cy="592.0" r="6.3"/><circle cx="1679.6" cy="587.4" r="6.3"/><circle cx="1685.3" cy="590.9" r="6.3"/><circle cx="1687.6" cy="596.6" r="6.3"/><circle cx="1666.9" cy="600.1" r="6.3"/><circle cx="1710.7" cy="590.4" r="6.3"/><circle cx="1717.6" cy="595.5" r="6.3"/><circle cx="1709.5" cy="600.1" r="6.3"/><circle cx="1716.4" cy="601.2" r="6.3"/><circle cx="1700.3" cy="603.1" r="6.3"/><circle cx="1737.1" cy="587.4" r="6.3"/><circle cx="1741.8" cy="595.5" r="6.3"/><circle cx="1734.8" cy="599.4" r="6.3"/><circle cx="1764.8" cy="589.7" r="6.3"/><circle cx="1757.2" cy="599.6" r="6.3"/><circle cx="1806.9" cy="585.6" r="6.3"/><circle cx="1794.0" cy="597.1" r="6.3"/><circle cx="1805.5" cy="597.3" r="6.3"/><circle cx="1829.2" cy="588.6" r="6.3"/><circle cx="1831.5" cy="592.0" r="6.3"/><circle cx="1613.5" cy="612.7" r="6.3"/><circle cx="1626.2" cy="607.7" r="6.3"/><circle cx="1634.7" cy="612.7" r="6.3"/><circle cx="1642.8" cy="612.7" r="6.3"/><circle cx="1622.7" cy="618.5" r="6.3"/><circle cx="1653.8" cy="610.0" r="6.3"/><circle cx="1681.9" cy="612.7" r="6.3"/><circle cx="1698.5" cy="616.9" r="6.3"/><circle cx="1713.0" cy="616.2" r="6.3"/><circle cx="1727.9" cy="614.3" r="6.3"/><circle cx="1753.3" cy="615.5" r="6.3"/><circle cx="1763.2" cy="612.7" r="6.3"/><circle cx="1776.3" cy="609.3" r="6.3"/><circle cx="1800.0" cy="609.3" r="6.3"/><circle cx="1795.9" cy="615.7" r="6.3"/><circle cx="1818.4" cy="613.2" r="6.3"/><circle cx="1839.6" cy="613.2" r="6.3"/><circle cx="1850.0" cy="612.0" r="6.3"/><circle cx="1848.3" cy="618.5" r="6.3"/><circle cx="1592.6" cy="619.2" r="6.3"/><circle cx="1585.2" cy="624.9" r="6.3"/><circle cx="1617.4" cy="628.4" r="6.3"/><circle cx="1650.1" cy="626.1" r="6.3"/><circle cx="1683.5" cy="624.2" r="6.3"/><circle cx="1696.4" cy="632.3" r="6.3"/><circle cx="1722.2" cy="629.5" r="6.3"/><circle cx="1777.4" cy="624.7" r="6.3"/><circle cx="1798.2" cy="626.1" r="6.3"/><circle cx="1618.6" cy="640.4" r="6.3"/><circle cx="1639.3" cy="643.8" r="6.3"/><circle cx="1624.3" cy="654.6" r="6.3"/><circle cx="1637.5" cy="656.5" r="6.3"/><circle cx="1675.7" cy="646.1" r="6.3"/><circle cx="1707.2" cy="643.1" r="6.3"/><circle cx="1766.6" cy="635.3" r="6.3"/><circle cx="1786.6" cy="635.8" r="6.3"/><circle cx="1833.2" cy="638.1" r="6.3"/><circle cx="1814.3" cy="643.1" r="6.3"/><circle cx="1561.0" cy="655.3" r="6.3"/><circle cx="1557.6" cy="661.1" r="6.3"/><circle cx="1730.2" cy="651.2" r="6.3"/><circle cx="1733.7" cy="651.9" r="6.3"/><circle cx="1769.4" cy="650.7" r="6.3"/><circle cx="1768.2" cy="654.2" r="6.3"/><circle cx="1844.2" cy="652.3" r="6.3"/><circle cx="1812.0" cy="656.9" r="6.3"/><circle cx="1809.2" cy="662.9" r="6.3"/><circle cx="1755.6" cy="661.8" r="6.3"/><circle cx="1633.5" cy="669.1" r="6.3"/><circle cx="1661.2" cy="668.4" r="6.3"/><circle cx="1704.9" cy="663.4" r="6.3"/><circle cx="1701.5" cy="666.4" r="6.3"/><circle cx="1731.4" cy="668.7" r="6.3"/><circle cx="1851.6" cy="670.3" r="6.3"/><circle cx="1598.6" cy="674.9" r="6.3"/><circle cx="1604.8" cy="672.6" r="6.3"/><circle cx="1620.9" cy="685.3" r="6.3"/><circle cx="1655.4" cy="684.1" r="6.3"/><circle cx="1703.8" cy="686.9" r="6.3"/><circle cx="1724.0" cy="679.0" r="6.3"/><circle cx="1801.6" cy="691.7" r="6.3"/><circle cx="1581.7" cy="697.2" r="6.3"/><circle cx="1657.3" cy="704.8" r="6.3"/><circle cx="1760.9" cy="706.0" r="6.3"/><circle cx="1569.1" cy="731.8" r="6.3"/><circle cx="1792.4" cy="725.5" r="6.3"/><circle cx="1820.0" cy="725.5" r="6.3"/><circle cx="1835.0" cy="730.6" r="6.3"/><circle cx="1825.3" cy="746.3" r="6.3"/><circle cx="1838.4" cy="754.8" r="6.3"/><circle cx="1824.2" cy="766.3" r="6.3"/></g><rect x="226" y="227" width="1657.5" height="638" fill="none" stroke="#000" stroke-width="6.2"/><g font-family="&quot;Liberation Sans&quot;, sans-serif" font-weight="bold" font-size="43.5" fill="#000"><text x="258.00" y="930.6" text-anchor="middle">0</text><text x="390.96" y="930.6" text-anchor="middle">6</text><text x="523.92" y="930.6" text-anchor="middle">12</text><text x="656.88" y="930.6" text-anchor="middle">18</text><text x="789.84" y="930.6" text-anchor="middle">24</text><text x="922.80" y="930.6" text-anchor="middle">30</text><text x="1055.76" y="930.6" text-anchor="middle">36</text><text x="1188.72" y="930.6" text-anchor="middle">42</text><text x="1321.68" y="930.6" text-anchor="middle">48</text><text x="1454.64" y="930.6" text-anchor="middle">54</text><text x="1587.60" y="930.6" text-anchor="middle">60</text><text x="1720.56" y="930.6" text-anchor="middle">66</text><text x="1853.52" y="930.6" text-anchor="middle">72</text><text x="190.7" y="367.1" text-anchor="end">16</text><text x="190.7" y="501.1" text-anchor="end">8</text><text x="190.7" y="635.1" text-anchor="end">0</text><text x="190.7" y="769.1" text-anchor="end">−8</text></g><path d="M258.00 1039.90V1023.90M258.00 1684.10V1700.10M302.32 1039.90V1032.90M302.32 1684.10V1691.10M346.64 1039.90V1032.90M346.64 1684.10V1691.10M390.96 1039.90V1023.90M390.96 1684.10V1700.10M435.28 1039.90V1032.90M435.28 1684.10V1691.10M479.60 1039.90V1032.90M479.60 1684.10V1691.10M523.92 1039.90V1023.90M523.92 1684.10V1700.10M568.24 1039.90V1032.90M568.24 1684.10V1691.10M612.56 1039.90V1032.90M612.56 1684.10V1691.10M656.88 1039.90V1023.90M656.88 1684.10V1700.10M701.20 1039.90V1032.90M701.20 1684.10V1691.10M745.52 1039.90V1032.90M745.52 1684.10V1691.10M789.84 1039.90V1023.90M789.84 1684.10V1700.10M834.16 1039.90V1032.90M834.16 1684.10V1691.10M878.48 1039.90V1032.90M878.48 1684.10V1691.10M922.80 1039.90V1023.90M922.80 1684.10V1700.10M967.12 1039.90V1032.90M967.12 1684.10V1691.10M1011.44 1039.90V1032.90M1011.44 1684.10V1691.10M1055.76 1039.90V1023.90M1055.76 1684.10V1700.10M1100.08 1039.90V1032.90M1100.08 1684.10V1691.10M1144.40 1039.90V1032.90M1144.40 1684.10V1691.10M1188.72 1039.90V1023.90M1188.72 1684.10V1700.10M1233.04 1039.90V1032.90M1233.04 1684.10V1691.10M1277.36 1039.90V1032.90M1277.36 1684.10V1691.10M1321.68 1039.90V1023.90M1321.68 1684.10V1700.10M1366.00 1039.90V1032.90M1366.00 1684.10V1691.10M1410.32 1039.90V1032.90M1410.32 1684.10V1691.10M1454.64 1039.90V1023.90M1454.64 1684.10V1700.10M1498.96 1039.90V1032.90M1498.96 1684.10V1691.10M1543.28 1039.90V1032.90M1543.28 1684.10V1691.10M1587.60 1039.90V1023.90M1587.60 1684.10V1700.10M1631.92 1039.90V1032.90M1631.92 1684.10V1691.10M1676.24 1039.90V1032.90M1676.24 1684.10V1691.10M1720.56 1039.90V1023.90M1720.56 1684.10V1700.10M1764.88 1039.90V1032.90M1764.88 1684.10V1691.10M1809.20 1039.90V1032.90M1809.20 1684.10V1691.10M1853.52 1039.90V1023.90M1853.52 1684.10V1700.10M222.90 1063.78H206.90M1886.60 1063.78H1902.60M222.90 1188.52H206.90M1886.60 1188.52H1902.60M222.90 1313.26H206.90M1886.60 1313.26H1902.60M222.90 1438.00H206.90M1886.60 1438.00H1902.60M222.90 1562.74H206.90M1886.60 1562.74H1902.60" stroke="#000" stroke-width="2.2" fill="none"/><g fill="#0000ff"><circle cx="346.4" cy="1179.0" r="6.3"/><circle cx="407.4" cy="1188.7" r="6.3"/><circle cx="276.2" cy="1205.3" r="6.3"/><circle cx="344.5" cy="1212.9" r="6.3"/><circle cx="488.4" cy="1212.2" r="6.3"/><circle cx="532.9" cy="1231.3" r="6.3"/><circle cx="525.3" cy="1234.8" r="6.3"/><circle cx="521.8" cy="1246.7" r="6.3"/><circle cx="370.6" cy="1242.8" r="6.3"/><circle cx="414.8" cy="1241.7" r="6.3"/><circle cx="300.3" cy="1249.3" r="6.3"/><circle cx="499.5" cy="1257.1" r="6.3"/><circle cx="287.7" cy="1272.7" r="6.3"/><circle cx="278.0" cy="1280.3" r="6.3"/><circle cx="263.5" cy="1288.2" r="6.3"/><circle cx="292.7" cy="1293.0" r="6.3"/><circle cx="283.1" cy="1297.6" r="6.3"/><circle cx="309.1" cy="1299.2" r="6.3"/><circle cx="305.6" cy="1306.1" r="6.3"/><circle cx="316.5" cy="1313.7" r="6.3"/><circle cx="324.5" cy="1313.7" r="6.3"/><circle cx="267.0" cy="1317.6" r="6.3"/><circle cx="352.1" cy="1304.3" r="6.3"/><circle cx="403.9" cy="1288.2" r="6.3"/><circle cx="413.1" cy="1296.2" r="6.3"/><circle cx="434.6" cy="1296.5" r="6.3"/><circle cx="462.6" cy="1288.9" r="6.3"/><circle cx="477.6" cy="1271.6" r="6.3"/><circle cx="473.7" cy="1280.3" r="6.3"/><circle cx="485.2" cy="1280.8" r="6.3"/><circle cx="497.9" cy="1286.6" r="6.3"/><circle cx="511.0" cy="1293.0" r="6.3"/><circle cx="501.3" cy="1312.3" r="6.3"/><circle cx="520.2" cy="1311.2" r="6.3"/><circle cx="527.1" cy="1305.4" r="6.3"/><circle cx="459.2" cy="1310.3" r="6.3"/><circle cx="450.0" cy="1318.1" r="6.3"/><circle cx="471.9" cy="1314.9" r="6.3"/><circle cx="307.9" cy="1333.1" r="6.3"/><circle cx="367.1" cy="1326.8" r="6.3"/><circle cx="375.2" cy="1330.3" r="6.3"/><circle cx="386.7" cy="1331.9" r="6.3"/><circle cx="512.8" cy="1325.7" r="6.3"/><circle cx="502.9" cy="1330.3" r="6.3"/><circle cx="508.7" cy="1334.4" r="6.3"/><circle cx="543.9" cy="1329.8" r="6.3"/><circle cx="470.0" cy="1337.2" r="6.3"/><circle cx="285.4" cy="1343.0" r="6.3"/><circle cx="274.6" cy="1350.6" r="6.3"/><circle cx="291.1" cy="1354.5" r="6.3"/><circle cx="272.7" cy="1363.4" r="6.3"/><circle cx="342.9" cy="1340.0" r="6.3"/><circle cx="361.3" cy="1338.4" r="6.3"/><circle cx="372.9" cy="1339.5" r="6.3"/><circle cx="375.9" cy="1349.4" r="6.3"/><circle cx="400.0" cy="1341.1" r="6.3"/><circle cx="322.2" cy="1348.3" r="6.3"/><circle cx="333.3" cy="1349.9" r="6.3"/><circle cx="327.5" cy="1355.2" r="6.3"/><circle cx="425.8" cy="1345.7" r="6.3"/><circle cx="433.2" cy="1354.9" r="6.3"/><circle cx="517.9" cy="1354.9" r="6.3"/><circle cx="531.7" cy="1351.5" r="6.3"/><circle cx="535.2" cy="1349.9" r="6.3"/><circle cx="531.3" cy="1359.1" r="6.3"/><circle cx="552.9" cy="1352.2" r="6.3"/><circle cx="558.8" cy="1362.6" r="6.3"/><circle cx="398.2" cy="1357.9" r="6.3"/><circle cx="394.7" cy="1363.4" r="6.3"/><circle cx="452.3" cy="1358.6" r="6.3"/><circle cx="461.5" cy="1357.5" r="6.3"/><circle cx="468.4" cy="1363.2" r="6.3"/><circle cx="424.1" cy="1362.9" r="6.3"/><circle cx="354.0" cy="1363.4" r="6.3"/><circle cx="368.3" cy="1365.7" r="6.3"/><circle cx="288.8" cy="1371.6" r="6.3"/><circle cx="281.5" cy="1379.9" r="6.3"/><circle cx="311.2" cy="1367.3" r="6.3"/><circle cx="363.2" cy="1373.9" r="6.3"/><circle cx="349.8" cy="1383.4" r="6.3"/><circle cx="420.1" cy="1370.0" r="6.3"/><circle cx="490.3" cy="1369.6" r="6.3"/><circle cx="523.7" cy="1370.5" r="6.3"/><circle cx="481.1" cy="1383.4" r="6.3"/><circle cx="494.4" cy="1383.4" r="6.3"/><circle cx="496.0" cy="1391.2" r="6.3"/><circle cx="464.5" cy="1388.9" r="6.3"/><circle cx="261.2" cy="1398.3" r="6.3"/><circle cx="271.1" cy="1411.5" r="6.3"/><circle cx="298.0" cy="1395.8" r="6.3"/><circle cx="302.6" cy="1397.7" r="6.3"/><circle cx="294.6" cy="1409.2" r="6.3"/><circle cx="303.8" cy="1413.8" r="6.3"/><circle cx="313.0" cy="1387.3" r="6.3"/><circle cx="326.4" cy="1394.9" r="6.3"/><circle cx="314.8" cy="1403.9" r="6.3"/><circle cx="337.2" cy="1409.9" r="6.3"/><circle cx="319.9" cy="1425.5" r="6.3"/><circle cx="347.5" cy="1425.7" r="6.3"/><circle cx="356.7" cy="1416.5" r="6.3"/><circle cx="356.1" cy="1426.4" r="6.3"/><circle cx="364.8" cy="1416.5" r="6.3"/><circle cx="381.6" cy="1388.0" r="6.3"/><circle cx="377.5" cy="1395.3" r="6.3"/><circle cx="385.5" cy="1393.0" r="6.3"/><circle cx="392.4" cy="1402.7" r="6.3"/><circle cx="389.0" cy="1410.8" r="6.3"/><circle cx="401.6" cy="1388.9" r="6.3"/><circle cx="406.2" cy="1390.7" r="6.3"/><circle cx="411.5" cy="1388.0" r="6.3"/><circle cx="427.7" cy="1395.3" r="6.3"/><circle cx="444.2" cy="1410.3" r="6.3"/><circle cx="453.4" cy="1417.2" r="6.3"/><circle cx="466.6" cy="1421.8" r="6.3"/><circle cx="479.5" cy="1413.1" r="6.3"/><circle cx="492.6" cy="1415.4" r="6.3"/><circle cx="486.8" cy="1426.0" r="6.3"/><circle cx="505.2" cy="1409.2" r="6.3"/><circle cx="514.4" cy="1405.0" r="6.3"/><circle cx="536.3" cy="1420.2" r="6.3"/><circle cx="543.2" cy="1423.0" r="6.3"/><circle cx="550.1" cy="1426.9" r="6.3"/><circle cx="429.3" cy="1429.9" r="6.3"/><circle cx="257.7" cy="1438.6" r="6.3"/><circle cx="279.6" cy="1441.9" r="6.3"/><circle cx="296.4" cy="1447.1" r="6.3"/><circle cx="329.1" cy="1444.8" r="6.3"/><circle cx="335.6" cy="1444.4" r="6.3"/><circle cx="379.3" cy="1441.4" r="6.3"/><circle cx="396.3" cy="1439.6" r="6.3"/><circle cx="457.4" cy="1439.6" r="6.3"/><circle cx="538.6" cy="1436.1" r="6.3"/><circle cx="546.7" cy="1437.9" r="6.3"/><circle cx="547.8" cy="1447.6" r="6.3"/><circle cx="555.2" cy="1455.2" r="6.3"/><circle cx="557.0" cy="1466.3" r="6.3"/><circle cx="268.6" cy="1458.2" r="6.3"/><circle cx="409.2" cy="1458.0" r="6.3"/><circle cx="440.8" cy="1452.4" r="6.3"/><circle cx="431.6" cy="1461.4" r="6.3"/><circle cx="439.2" cy="1461.0" r="6.3"/><circle cx="448.4" cy="1459.4" r="6.3"/><circle cx="475.3" cy="1452.2" r="6.3"/><circle cx="516.8" cy="1454.7" r="6.3"/><circle cx="506.9" cy="1464.9" r="6.3"/><circle cx="418.9" cy="1470.9" r="6.3"/><circle cx="423.0" cy="1472.5" r="6.3"/><circle cx="482.9" cy="1470.9" r="6.3"/><circle cx="383.2" cy="1476.4" r="6.3"/><circle cx="339.0" cy="1478.9" r="6.3"/><circle cx="340.6" cy="1491.4" r="6.3"/><circle cx="540.5" cy="1477.8" r="6.3"/><circle cx="442.6" cy="1496.6" r="6.3"/><circle cx="390.8" cy="1503.1" r="6.3"/><circle cx="551.3" cy="1504.7" r="6.3"/><circle cx="331.4" cy="1510.5" r="6.3"/><circle cx="359.5" cy="1513.9" r="6.3"/><circle cx="265.1" cy="1515.1" r="6.3"/><circle cx="560.5" cy="1518.8" r="6.3"/><circle cx="416.6" cy="1525.4" r="6.3"/><circle cx="455.3" cy="1526.6" r="6.3"/><circle cx="436.9" cy="1558.8" r="6.3"/><circle cx="446.1" cy="1594.0" r="6.3"/><circle cx="870.8" cy="1177.7" r="6.3"/><circle cx="876.1" cy="1195.6" r="6.3"/><circle cx="658.3" cy="1190.3" r="6.3"/><circle cx="656.7" cy="1204.8" r="6.3"/><circle cx="822.9" cy="1210.1" r="6.3"/><circle cx="830.0" cy="1232.0" r="6.3"/><circle cx="642.2" cy="1235.2" r="6.3"/><circle cx="579.1" cy="1249.3" r="6.3"/><circle cx="782.1" cy="1247.4" r="6.3"/><circle cx="732.2" cy="1255.0" r="6.3"/><circle cx="839.2" cy="1251.6" r="6.3"/><circle cx="885.3" cy="1251.6" r="6.3"/><circle cx="815.5" cy="1258.9" r="6.3"/><circle cx="817.4" cy="1271.1" r="6.3"/><circle cx="719.5" cy="1272.3" r="6.3"/><circle cx="734.2" cy="1279.0" r="6.3"/><circle cx="767.2" cy="1267.4" r="6.3"/><circle cx="771.3" cy="1277.8" r="6.3"/><circle cx="808.2" cy="1282.6" r="6.3"/><circle cx="802.4" cy="1289.5" r="6.3"/><circle cx="880.4" cy="1284.7" r="6.3"/><circle cx="634.3" cy="1289.3" r="6.3"/><circle cx="571.5" cy="1295.1" r="6.3"/><circle cx="577.2" cy="1299.9" r="6.3"/><circle cx="593.8" cy="1296.5" r="6.3"/><circle cx="841.3" cy="1297.6" r="6.3"/><circle cx="833.9" cy="1304.5" r="6.3"/><circle cx="828.2" cy="1314.2" r="6.3"/><circle cx="859.7" cy="1299.2" r="6.3"/><circle cx="717.7" cy="1310.3" r="6.3"/><circle cx="671.2" cy="1313.7" r="6.3"/><circle cx="660.6" cy="1322.2" r="6.3"/><circle cx="747.1" cy="1325.2" r="6.3"/><circle cx="813.2" cy="1325.7" r="6.3"/><circle cx="821.3" cy="1328.5" r="6.3"/><circle cx="774.8" cy="1336.1" r="6.3"/><circle cx="565.7" cy="1351.0" r="6.3"/><circle cx="589.9" cy="1348.0" r="6.3"/><circle cx="610.6" cy="1344.6" r="6.3"/><circle cx="623.3" cy="1341.8" r="6.3"/><circle cx="630.6" cy="1348.7" r="6.3"/><circle cx="614.1" cy="1356.8" r="6.3"/><circle cx="741.8" cy="1344.1" r="6.3"/><circle cx="743.0" cy="1347.6" r="6.3"/><circle cx="754.5" cy="1344.6" r="6.3"/><circle cx="784.0" cy="1344.6" r="6.3"/><circle cx="778.7" cy="1353.8" r="6.3"/><circle cx="787.4" cy="1358.4" r="6.3"/><circle cx="804.5" cy="1353.3" r="6.3"/><circle cx="852.4" cy="1349.4" r="6.3"/><circle cx="878.1" cy="1349.9" r="6.3"/><circle cx="891.0" cy="1353.6" r="6.3"/><circle cx="711.9" cy="1354.5" r="6.3"/><circle cx="723.0" cy="1357.5" r="6.3"/><circle cx="737.9" cy="1360.8" r="6.3"/><circle cx="669.3" cy="1364.3" r="6.3"/><circle cx="562.3" cy="1387.3" r="6.3"/><circle cx="568.0" cy="1381.5" r="6.3"/><circle cx="580.7" cy="1371.2" r="6.3"/><circle cx="585.3" cy="1369.3" r="6.3"/><circle cx="595.7" cy="1374.2" r="6.3"/><circle cx="588.1" cy="1388.9" r="6.3"/><circle cx="597.5" cy="1394.9" r="6.3"/><circle cx="606.7" cy="1392.6" r="6.3"/><circle cx="612.9" cy="1396.0" r="6.3"/><circle cx="639.9" cy="1370.0" r="6.3"/><circle cx="650.9" cy="1366.6" r="6.3"/><circle cx="636.6" cy="1382.7" r="6.3"/><circle cx="662.4" cy="1374.2" r="6.3"/><circle cx="667.0" cy="1368.9" r="6.3"/><circle cx="674.6" cy="1383.8" r="6.3"/><circle cx="677.4" cy="1382.0" r="6.3"/><circle cx="682.7" cy="1402.3" r="6.3"/><circle cx="693.5" cy="1394.9" r="6.3"/><circle cx="698.8" cy="1387.3" r="6.3"/><circle cx="710.8" cy="1390.7" r="6.3"/><circle cx="713.8" cy="1401.8" r="6.3"/><circle cx="715.4" cy="1375.8" r="6.3"/><circle cx="726.9" cy="1395.3" r="6.3"/><circle cx="731.5" cy="1397.7" r="6.3"/><circle cx="725.7" cy="1398.8" r="6.3"/><circle cx="748.8" cy="1393.0" r="6.3"/><circle cx="776.4" cy="1370.0" r="6.3"/><circle cx="772.9" cy="1377.4" r="6.3"/><circle cx="769.5" cy="1404.1" r="6.3"/><circle cx="805.9" cy="1384.5" r="6.3"/><circle cx="819.0" cy="1391.2" r="6.3"/><circle cx="826.3" cy="1371.2" r="6.3"/><circle cx="837.4" cy="1369.6" r="6.3"/><circle cx="848.9" cy="1381.1" r="6.3"/><circle cx="854.7" cy="1385.0" r="6.3"/><circle cx="889.2" cy="1371.2" r="6.3"/><circle cx="824.7" cy="1402.9" r="6.3"/><circle cx="843.1" cy="1399.5" r="6.3"/><circle cx="855.8" cy="1402.9" r="6.3"/><circle cx="887.6" cy="1401.6" r="6.3"/><circle cx="833.9" cy="1414.5" r="6.3"/><circle cx="846.6" cy="1414.5" r="6.3"/><circle cx="863.9" cy="1419.5" r="6.3"/><circle cx="873.1" cy="1419.1" r="6.3"/><circle cx="798.9" cy="1401.8" r="6.3"/><circle cx="793.6" cy="1406.9" r="6.3"/><circle cx="794.8" cy="1416.1" r="6.3"/><circle cx="780.3" cy="1417.9" r="6.3"/><circle cx="765.6" cy="1424.8" r="6.3"/><circle cx="750.6" cy="1417.7" r="6.3"/><circle cx="728.5" cy="1418.8" r="6.3"/><circle cx="644.0" cy="1404.1" r="6.3"/><circle cx="649.1" cy="1406.2" r="6.3"/><circle cx="652.7" cy="1419.5" r="6.3"/><circle cx="645.1" cy="1424.1" r="6.3"/><circle cx="680.4" cy="1416.1" r="6.3"/><circle cx="691.7" cy="1424.8" r="6.3"/><circle cx="685.4" cy="1434.5" r="6.3"/><circle cx="691.2" cy="1433.3" r="6.3"/><circle cx="678.5" cy="1442.1" r="6.3"/><circle cx="695.8" cy="1447.6" r="6.3"/><circle cx="706.2" cy="1446.7" r="6.3"/><circle cx="701.1" cy="1460.3" r="6.3"/><circle cx="721.1" cy="1440.7" r="6.3"/><circle cx="739.5" cy="1439.1" r="6.3"/><circle cx="745.3" cy="1443.2" r="6.3"/><circle cx="752.2" cy="1432.6" r="6.3"/><circle cx="758.0" cy="1439.6" r="6.3"/><circle cx="564.6" cy="1421.8" r="6.3"/><circle cx="583.0" cy="1421.1" r="6.3"/><circle cx="604.9" cy="1423.0" r="6.3"/><circle cx="625.1" cy="1426.4" r="6.3"/><circle cx="573.8" cy="1440.7" r="6.3"/><circle cx="586.4" cy="1442.5" r="6.3"/><circle cx="592.2" cy="1439.1" r="6.3"/><circle cx="608.3" cy="1435.6" r="6.3"/><circle cx="618.2" cy="1444.8" r="6.3"/><circle cx="629.0" cy="1453.4" r="6.3"/><circle cx="638.2" cy="1437.5" r="6.3"/><circle cx="654.4" cy="1434.5" r="6.3"/><circle cx="811.6" cy="1436.3" r="6.3"/><circle cx="851.2" cy="1443.7" r="6.3"/><circle cx="858.1" cy="1437.5" r="6.3"/><circle cx="865.7" cy="1441.9" r="6.3"/><circle cx="881.8" cy="1440.7" r="6.3"/><circle cx="874.7" cy="1452.9" r="6.3"/><circle cx="763.7" cy="1461.4" r="6.3"/><circle cx="797.1" cy="1467.2" r="6.3"/><circle cx="845.0" cy="1471.3" r="6.3"/><circle cx="569.9" cy="1479.4" r="6.3"/><circle cx="603.0" cy="1490.9" r="6.3"/><circle cx="619.8" cy="1485.8" r="6.3"/><circle cx="621.0" cy="1493.9" r="6.3"/><circle cx="632.5" cy="1497.3" r="6.3"/><circle cx="600.3" cy="1504.7" r="6.3"/><circle cx="615.9" cy="1511.2" r="6.3"/><circle cx="761.4" cy="1489.3" r="6.3"/><circle cx="760.3" cy="1507.5" r="6.3"/><circle cx="861.6" cy="1492.5" r="6.3"/><circle cx="704.5" cy="1501.3" r="6.3"/><circle cx="687.7" cy="1509.8" r="6.3"/><circle cx="665.9" cy="1517.4" r="6.3"/><circle cx="789.5" cy="1513.9" r="6.3"/><circle cx="868.9" cy="1518.5" r="6.3"/><circle cx="883.4" cy="1520.8" r="6.3"/><circle cx="756.1" cy="1530.5" r="6.3"/><circle cx="697.0" cy="1532.3" r="6.3"/><circle cx="708.5" cy="1539.9" r="6.3"/><circle cx="809.8" cy="1530.7" r="6.3"/><circle cx="800.6" cy="1536.9" r="6.3"/><circle cx="627.2" cy="1555.4" r="6.3"/><circle cx="736.1" cy="1557.2" r="6.3"/><circle cx="867.3" cy="1568.5" r="6.3"/><circle cx="684.3" cy="1599.8" r="6.3"/><circle cx="946.7" cy="1148.4" r="6.3"/><circle cx="993.0" cy="1178.3" r="6.3"/><circle cx="998.7" cy="1178.3" r="6.3"/><circle cx="1055.6" cy="1184.1" r="6.3"/><circle cx="898.6" cy="1200.2" r="6.3"/><circle cx="1009.1" cy="1220.5" r="6.3"/><circle cx="995.7" cy="1225.1" r="6.3"/><circle cx="1001.5" cy="1230.8" r="6.3"/><circle cx="1011.4" cy="1230.1" r="6.3"/><circle cx="1143.8" cy="1230.8" r="6.3"/><circle cx="1092.4" cy="1245.1" r="6.3"/><circle cx="1120.5" cy="1260.1" r="6.3"/><circle cx="1221.7" cy="1265.4" r="6.3"/><circle cx="928.3" cy="1260.5" r="6.3"/><circle cx="893.3" cy="1265.1" r="6.3"/><circle cx="1033.7" cy="1262.8" r="6.3"/><circle cx="1028.0" cy="1273.9" r="6.3"/><circle cx="957.7" cy="1272.1" r="6.3"/><circle cx="907.8" cy="1276.2" r="6.3"/><circle cx="991.1" cy="1279.0" r="6.3"/><circle cx="1181.1" cy="1274.6" r="6.3"/><circle cx="902.0" cy="1286.6" r="6.3"/><circle cx="911.7" cy="1293.0" r="6.3"/><circle cx="917.4" cy="1291.2" r="6.3"/><circle cx="959.6" cy="1290.7" r="6.3"/><circle cx="1013.0" cy="1294.2" r="6.3"/><circle cx="1057.4" cy="1298.5" r="6.3"/><circle cx="1113.1" cy="1296.2" r="6.3"/><circle cx="1131.1" cy="1290.7" r="6.3"/><circle cx="1146.1" cy="1296.2" r="6.3"/><circle cx="1159.2" cy="1295.1" r="6.3"/><circle cx="1179.4" cy="1293.5" r="6.3"/><circle cx="950.1" cy="1305.0" r="6.3"/><circle cx="963.5" cy="1304.5" r="6.3"/><circle cx="1003.8" cy="1306.8" r="6.3"/><circle cx="1031.4" cy="1307.3" r="6.3"/><circle cx="1068.7" cy="1311.2" r="6.3"/><circle cx="1114.3" cy="1309.1" r="6.3"/><circle cx="1177.1" cy="1307.7" r="6.3"/><circle cx="1129.3" cy="1315.8" r="6.3"/><circle cx="900.2" cy="1314.2" r="6.3"/><circle cx="924.3" cy="1312.3" r="6.3"/><circle cx="922.0" cy="1321.5" r="6.3"/><circle cx="933.6" cy="1320.6" r="6.3"/><circle cx="961.2" cy="1316.9" r="6.3"/><circle cx="1212.1" cy="1318.1" r="6.3"/><circle cx="1156.9" cy="1319.5" r="6.3"/><circle cx="1171.8" cy="1323.4" r="6.3"/><circle cx="1110.8" cy="1323.4" r="6.3"/><circle cx="909.4" cy="1326.4" r="6.3"/><circle cx="970.4" cy="1328.5" r="6.3"/><circle cx="1007.2" cy="1327.3" r="6.3"/><circle cx="1062.9" cy="1326.2" r="6.3"/><circle cx="1042.5" cy="1332.1" r="6.3"/><circle cx="1161.0" cy="1331.9" r="6.3"/><circle cx="1182.9" cy="1330.8" r="6.3"/><circle cx="1193.7" cy="1331.4" r="6.3"/><circle cx="1074.0" cy="1337.9" r="6.3"/><circle cx="1089.0" cy="1336.7" r="6.3"/><circle cx="1090.6" cy="1348.3" r="6.3"/><circle cx="1135.0" cy="1337.2" r="6.3"/><circle cx="940.5" cy="1341.3" r="6.3"/><circle cx="948.5" cy="1341.8" r="6.3"/><circle cx="954.3" cy="1349.4" r="6.3"/><circle cx="965.3" cy="1343.0" r="6.3"/><circle cx="896.7" cy="1346.9" r="6.3"/><circle cx="1049.8" cy="1348.0" r="6.3"/><circle cx="1107.4" cy="1346.0" r="6.3"/><circle cx="1192.1" cy="1347.1" r="6.3"/><circle cx="1207.1" cy="1342.5" r="6.3"/><circle cx="1217.9" cy="1346.9" r="6.3"/><circle cx="1014.8" cy="1355.6" r="6.3"/><circle cx="1060.9" cy="1356.1" r="6.3"/><circle cx="1124.0" cy="1355.6" r="6.3"/><circle cx="1166.5" cy="1355.2" r="6.3"/><circle cx="985.4" cy="1361.1" r="6.3"/><circle cx="1019.9" cy="1365.1" r="6.3"/><circle cx="1132.7" cy="1364.2" r="6.3"/><circle cx="1140.3" cy="1365.1" r="6.3"/><circle cx="1025.2" cy="1367.3" r="6.3"/><circle cx="894.9" cy="1413.3" r="6.3"/><circle cx="915.1" cy="1373.5" r="6.3"/><circle cx="944.6" cy="1375.8" r="6.3"/><circle cx="952.0" cy="1376.9" r="6.3"/><circle cx="942.8" cy="1388.0" r="6.3"/><circle cx="981.9" cy="1374.2" r="6.3"/><circle cx="987.7" cy="1382.0" r="6.3"/><circle cx="983.1" cy="1384.5" r="6.3"/><circle cx="1000.3" cy="1373.9" r="6.3"/><circle cx="1016.9" cy="1370.0" r="6.3"/><circle cx="1034.9" cy="1370.7" r="6.3"/><circle cx="1037.2" cy="1386.1" r="6.3"/><circle cx="1029.8" cy="1397.0" r="6.3"/><circle cx="1059.0" cy="1374.2" r="6.3"/><circle cx="1070.5" cy="1371.2" r="6.3"/><circle cx="1064.8" cy="1381.1" r="6.3"/><circle cx="1094.3" cy="1381.1" r="6.3"/><circle cx="1118.2" cy="1375.8" r="6.3"/><circle cx="1138.5" cy="1375.8" r="6.3"/><circle cx="1136.9" cy="1381.1" r="6.3"/><circle cx="1079.8" cy="1388.4" r="6.3"/><circle cx="1086.0" cy="1390.7" r="6.3"/><circle cx="1072.4" cy="1398.8" r="6.3"/><circle cx="1087.4" cy="1401.6" r="6.3"/><circle cx="1127.6" cy="1399.3" r="6.3"/><circle cx="1142.4" cy="1407.6" r="6.3"/><circle cx="1169.5" cy="1368.9" r="6.3"/><circle cx="1174.1" cy="1375.1" r="6.3"/><circle cx="1188.0" cy="1371.9" r="6.3"/><circle cx="1184.5" cy="1381.1" r="6.3"/><circle cx="1175.3" cy="1386.6" r="6.3"/><circle cx="1201.3" cy="1369.6" r="6.3"/><circle cx="1199.5" cy="1391.9" r="6.3"/><circle cx="1224.1" cy="1365.0" r="6.3"/><circle cx="913.3" cy="1396.0" r="6.3"/><circle cx="955.9" cy="1400.4" r="6.3"/><circle cx="977.8" cy="1404.1" r="6.3"/><circle cx="968.1" cy="1409.2" r="6.3"/><circle cx="966.2" cy="1417.2" r="6.3"/><circle cx="975.0" cy="1416.1" r="6.3"/><circle cx="976.1" cy="1427.6" r="6.3"/><circle cx="933.6" cy="1417.2" r="6.3"/><circle cx="939.3" cy="1414.9" r="6.3"/><circle cx="937.0" cy="1425.3" r="6.3"/><circle cx="926.0" cy="1429.4" r="6.3"/><circle cx="1018.7" cy="1422.3" r="6.3"/><circle cx="1044.1" cy="1418.8" r="6.3"/><circle cx="1083.2" cy="1416.5" r="6.3"/><circle cx="1096.3" cy="1412.2" r="6.3"/><circle cx="1109.0" cy="1421.1" r="6.3"/><circle cx="1125.8" cy="1425.3" r="6.3"/><circle cx="1167.9" cy="1415.4" r="6.3"/><circle cx="1190.3" cy="1424.1" r="6.3"/><circle cx="1203.4" cy="1415.4" r="6.3"/><circle cx="1214.4" cy="1414.5" r="6.3"/><circle cx="1220.2" cy="1406.4" r="6.3"/><circle cx="905.9" cy="1452.2" r="6.3"/><circle cx="930.1" cy="1449.5" r="6.3"/><circle cx="1006.1" cy="1442.5" r="6.3"/><circle cx="1046.4" cy="1435.6" r="6.3"/><circle cx="1048.2" cy="1444.8" r="6.3"/><circle cx="1052.1" cy="1450.1" r="6.3"/><circle cx="1081.6" cy="1443.7" r="6.3"/><circle cx="1097.7" cy="1450.6" r="6.3"/><circle cx="1116.6" cy="1437.5" r="6.3"/><circle cx="1148.1" cy="1451.1" r="6.3"/><circle cx="1162.6" cy="1447.6" r="6.3"/><circle cx="1164.5" cy="1453.6" r="6.3"/><circle cx="1197.9" cy="1443.2" r="6.3"/><circle cx="994.6" cy="1464.0" r="6.3"/><circle cx="988.8" cy="1472.5" r="6.3"/><circle cx="1053.7" cy="1472.5" r="6.3"/><circle cx="1075.8" cy="1470.2" r="6.3"/><circle cx="1186.8" cy="1462.1" r="6.3"/><circle cx="1210.5" cy="1467.9" r="6.3"/><circle cx="972.2" cy="1485.6" r="6.3"/><circle cx="1025.6" cy="1482.4" r="6.3"/><circle cx="1040.6" cy="1481.2" r="6.3"/><circle cx="1105.5" cy="1475.2" r="6.3"/><circle cx="1121.9" cy="1478.9" r="6.3"/><circle cx="1150.0" cy="1484.7" r="6.3"/><circle cx="1155.3" cy="1495.5" r="6.3"/><circle cx="1196.0" cy="1479.4" r="6.3"/><circle cx="1205.2" cy="1495.5" r="6.3"/><circle cx="920.9" cy="1496.0" r="6.3"/><circle cx="904.1" cy="1500.8" r="6.3"/><circle cx="918.6" cy="1513.2" r="6.3"/><circle cx="979.6" cy="1505.9" r="6.3"/><circle cx="1103.5" cy="1496.6" r="6.3"/><circle cx="1153.4" cy="1518.1" r="6.3"/><circle cx="1101.6" cy="1532.8" r="6.3"/><circle cx="1151.6" cy="1539.2" r="6.3"/><circle cx="1209.1" cy="1549.6" r="6.3"/><circle cx="1039.0" cy="1555.8" r="6.3"/><circle cx="1022.2" cy="1561.6" r="6.3"/><circle cx="1216.0" cy="1574.9" r="6.3"/><circle cx="1077.9" cy="1617.5" r="6.3"/><circle cx="1099.8" cy="1667.7" r="6.3"/><circle cx="1277.2" cy="1055.2" r="6.3"/><circle cx="1279.1" cy="1112.0" r="6.3"/><circle cx="1524.7" cy="1139.7" r="6.3"/><circle cx="1406.6" cy="1170.3" r="6.3"/><circle cx="1469.0" cy="1176.5" r="6.3"/><circle cx="1533.9" cy="1167.3" r="6.3"/><circle cx="1522.9" cy="1177.7" r="6.3"/><circle cx="1528.2" cy="1192.9" r="6.3"/><circle cx="1257.0" cy="1237.5" r="6.3"/><circle cx="1286.4" cy="1232.5" r="6.3"/><circle cx="1281.1" cy="1241.7" r="6.3"/><circle cx="1317.5" cy="1234.1" r="6.3"/><circle cx="1417.2" cy="1229.5" r="6.3"/><circle cx="1435.6" cy="1224.4" r="6.3"/><circle cx="1445.3" cy="1221.4" r="6.3"/><circle cx="1465.5" cy="1231.3" r="6.3"/><circle cx="1389.6" cy="1257.1" r="6.3"/><circle cx="1408.0" cy="1255.0" r="6.3"/><circle cx="1423.0" cy="1259.4" r="6.3"/><circle cx="1434.5" cy="1260.8" r="6.3"/><circle cx="1391.2" cy="1273.2" r="6.3"/><circle cx="1428.5" cy="1279.2" r="6.3"/><circle cx="1535.8" cy="1259.6" r="6.3"/><circle cx="1550.0" cy="1267.4" r="6.3"/><circle cx="1554.6" cy="1275.0" r="6.3"/><circle cx="1537.8" cy="1282.4" r="6.3"/><circle cx="1546.6" cy="1291.6" r="6.3"/><circle cx="1247.3" cy="1298.8" r="6.3"/><circle cx="1268.0" cy="1296.5" r="6.3"/><circle cx="1271.5" cy="1303.8" r="6.3"/><circle cx="1273.8" cy="1309.6" r="6.3"/><circle cx="1306.5" cy="1293.5" r="6.3"/><circle cx="1371.2" cy="1287.2" r="6.3"/><circle cx="1369.3" cy="1293.0" r="6.3"/><circle cx="1385.9" cy="1289.3" r="6.3"/><circle cx="1397.4" cy="1293.9" r="6.3"/><circle cx="1413.5" cy="1299.2" r="6.3"/><circle cx="1437.9" cy="1296.2" r="6.3"/><circle cx="1478.2" cy="1286.6" r="6.3"/><circle cx="1489.7" cy="1284.3" r="6.3"/><circle cx="1481.0" cy="1291.2" r="6.3"/><circle cx="1494.8" cy="1291.9" r="6.3"/><circle cx="1504.5" cy="1293.9" r="6.3"/><circle cx="1516.7" cy="1298.8" r="6.3"/><circle cx="1459.8" cy="1300.8" r="6.3"/><circle cx="1467.2" cy="1305.4" r="6.3"/><circle cx="1475.2" cy="1303.8" r="6.3"/><circle cx="1484.4" cy="1306.1" r="6.3"/><circle cx="1530.5" cy="1308.4" r="6.3"/><circle cx="1539.2" cy="1320.4" r="6.3"/><circle cx="1240.4" cy="1314.2" r="6.3"/><circle cx="1260.6" cy="1317.2" r="6.3"/><circle cx="1242.7" cy="1325.0" r="6.3"/><circle cx="1249.6" cy="1329.6" r="6.3"/><circle cx="1314.1" cy="1326.4" r="6.3"/><circle cx="1349.1" cy="1312.3" r="6.3"/><circle cx="1364.2" cy="1313.7" r="6.3"/><circle cx="1361.9" cy="1321.5" r="6.3"/><circle cx="1432.2" cy="1312.6" r="6.3"/><circle cx="1424.6" cy="1322.2" r="6.3"/><circle cx="1456.3" cy="1316.0" r="6.3"/><circle cx="1498.9" cy="1315.3" r="6.3"/><circle cx="1487.9" cy="1319.9" r="6.3"/><circle cx="1496.6" cy="1326.8" r="6.3"/><circle cx="1452.9" cy="1328.0" r="6.3"/><circle cx="1462.1" cy="1328.0" r="6.3"/><circle cx="1476.4" cy="1333.3" r="6.3"/><circle cx="1430.3" cy="1334.2" r="6.3"/><circle cx="1454.5" cy="1339.5" r="6.3"/><circle cx="1292.2" cy="1336.1" r="6.3"/><circle cx="1302.1" cy="1339.5" r="6.3"/><circle cx="1300.2" cy="1344.1" r="6.3"/><circle cx="1308.3" cy="1349.9" r="6.3"/><circle cx="1311.8" cy="1354.5" r="6.3"/><circle cx="1321.0" cy="1356.3" r="6.3"/><circle cx="1264.1" cy="1346.9" r="6.3"/><circle cx="1269.6" cy="1359.6" r="6.3"/><circle cx="1353.9" cy="1335.4" r="6.3"/><circle cx="1359.6" cy="1338.8" r="6.3"/><circle cx="1373.2" cy="1335.6" r="6.3"/><circle cx="1400.9" cy="1337.2" r="6.3"/><circle cx="1402.7" cy="1349.9" r="6.3"/><circle cx="1345.8" cy="1351.0" r="6.3"/><circle cx="1367.7" cy="1355.2" r="6.3"/><circle cx="1356.6" cy="1362.5" r="6.3"/><circle cx="1388.2" cy="1361.1" r="6.3"/><circle cx="1419.3" cy="1359.6" r="6.3"/><circle cx="1450.6" cy="1357.9" r="6.3"/><circle cx="1471.3" cy="1356.1" r="6.3"/><circle cx="1463.2" cy="1362.2" r="6.3"/><circle cx="1493.2" cy="1351.7" r="6.3"/><circle cx="1517.8" cy="1343.0" r="6.3"/><circle cx="1521.3" cy="1345.3" r="6.3"/><circle cx="1513.9" cy="1350.3" r="6.3"/><circle cx="1543.1" cy="1337.9" r="6.3"/><circle cx="1548.9" cy="1345.3" r="6.3"/><circle cx="1525.9" cy="1356.3" r="6.3"/><circle cx="1532.2" cy="1361.9" r="6.3"/><circle cx="1228.9" cy="1364.9" r="6.3"/><circle cx="1239.2" cy="1364.2" r="6.3"/><circle cx="1293.3" cy="1363.4" r="6.3"/><circle cx="1543.1" cy="1365.4" r="6.3"/><circle cx="1246.1" cy="1368.2" r="6.3"/><circle cx="1289.9" cy="1368.9" r="6.3"/><circle cx="1225.4" cy="1406.4" r="6.3"/><circle cx="1231.2" cy="1521.3" r="6.3"/><circle cx="1233.0" cy="1379.2" r="6.3"/><circle cx="1236.5" cy="1386.1" r="6.3"/><circle cx="1254.9" cy="1377.6" r="6.3"/><circle cx="1304.8" cy="1375.8" r="6.3"/><circle cx="1288.0" cy="1386.6" r="6.3"/><circle cx="1329.0" cy="1384.3" r="6.3"/><circle cx="1350.9" cy="1389.1" r="6.3"/><circle cx="1384.3" cy="1381.5" r="6.3"/><circle cx="1393.5" cy="1385.0" r="6.3"/><circle cx="1382.4" cy="1394.7" r="6.3"/><circle cx="1395.3" cy="1394.9" r="6.3"/><circle cx="1421.1" cy="1394.7" r="6.3"/><circle cx="1426.9" cy="1392.4" r="6.3"/><circle cx="1458.0" cy="1394.2" r="6.3"/><circle cx="1482.1" cy="1384.3" r="6.3"/><circle cx="1486.0" cy="1391.2" r="6.3"/><circle cx="1509.8" cy="1373.5" r="6.3"/><circle cx="1507.9" cy="1393.0" r="6.3"/><circle cx="1234.6" cy="1412.6" r="6.3"/><circle cx="1262.3" cy="1406.4" r="6.3"/><circle cx="1243.8" cy="1424.6" r="6.3"/><circle cx="1253.0" cy="1429.4" r="6.3"/><circle cx="1258.8" cy="1420.2" r="6.3"/><circle cx="1274.9" cy="1420.7" r="6.3"/><circle cx="1284.8" cy="1417.2" r="6.3"/><circle cx="1310.1" cy="1409.2" r="6.3"/><circle cx="1323.3" cy="1409.2" r="6.3"/><circle cx="1338.2" cy="1402.3" r="6.3"/><circle cx="1335.5" cy="1406.2" r="6.3"/><circle cx="1332.5" cy="1417.2" r="6.3"/><circle cx="1344.0" cy="1418.4" r="6.3"/><circle cx="1316.4" cy="1424.1" r="6.3"/><circle cx="1325.1" cy="1427.6" r="6.3"/><circle cx="1365.9" cy="1423.4" r="6.3"/><circle cx="1380.8" cy="1408.0" r="6.3"/><circle cx="1378.5" cy="1420.2" r="6.3"/><circle cx="1415.8" cy="1412.6" r="6.3"/><circle cx="1404.5" cy="1428.3" r="6.3"/><circle cx="1441.8" cy="1407.3" r="6.3"/><circle cx="1447.1" cy="1419.5" r="6.3"/><circle cx="1443.0" cy="1428.3" r="6.3"/><circle cx="1472.9" cy="1430.3" r="6.3"/><circle cx="1511.6" cy="1414.5" r="6.3"/><circle cx="1506.3" cy="1429.9" r="6.3"/><circle cx="1500.5" cy="1436.8" r="6.3"/><circle cx="1491.3" cy="1442.1" r="6.3"/><circle cx="1251.4" cy="1441.9" r="6.3"/><circle cx="1228.9" cy="1449.5" r="6.3"/><circle cx="1266.2" cy="1452.2" r="6.3"/><circle cx="1295.6" cy="1447.6" r="6.3"/><circle cx="1299.8" cy="1445.5" r="6.3"/><circle cx="1358.3" cy="1447.8" r="6.3"/><circle cx="1399.2" cy="1445.3" r="6.3"/><circle cx="1326.7" cy="1456.4" r="6.3"/><circle cx="1334.8" cy="1454.1" r="6.3"/><circle cx="1330.6" cy="1466.0" r="6.3"/><circle cx="1347.0" cy="1474.1" r="6.3"/><circle cx="1375.1" cy="1468.6" r="6.3"/><circle cx="1376.9" cy="1485.1" r="6.3"/><circle cx="1411.9" cy="1460.3" r="6.3"/><circle cx="1552.3" cy="1477.1" r="6.3"/><circle cx="1297.5" cy="1492.0" r="6.3"/><circle cx="1340.1" cy="1513.2" r="6.3"/><circle cx="1448.7" cy="1510.0" r="6.3"/><circle cx="1439.5" cy="1523.6" r="6.3"/><circle cx="1341.7" cy="1537.4" r="6.3"/><circle cx="1410.1" cy="1539.7" r="6.3"/><circle cx="1502.4" cy="1574.2" r="6.3"/><circle cx="1556.0" cy="1206.4" r="6.3"/><circle cx="1724.0" cy="1196.8" r="6.3"/><circle cx="1799.8" cy="1204.8" r="6.3"/><circle cx="1640.9" cy="1225.1" r="6.3"/><circle cx="1591.4" cy="1234.1" r="6.3"/><circle cx="1613.3" cy="1242.1" r="6.3"/><circle cx="1665.1" cy="1246.7" r="6.3"/><circle cx="1589.3" cy="1250.9" r="6.3"/><circle cx="1593.3" cy="1261.9" r="6.3"/><circle cx="1587.0" cy="1267.4" r="6.3"/><circle cx="1657.3" cy="1264.2" r="6.3"/><circle cx="1729.1" cy="1258.9" r="6.3"/><circle cx="1753.3" cy="1266.5" r="6.3"/><circle cx="1703.8" cy="1270.9" r="6.3"/><circle cx="1725.6" cy="1274.6" r="6.3"/><circle cx="1718.7" cy="1280.3" r="6.3"/><circle cx="1714.8" cy="1290.0" r="6.3"/><circle cx="1727.5" cy="1288.4" r="6.3"/><circle cx="1746.4" cy="1282.0" r="6.3"/><circle cx="1809.2" cy="1241.2" r="6.3"/><circle cx="1830.9" cy="1234.8" r="6.3"/><circle cx="1796.3" cy="1251.6" r="6.3"/><circle cx="1837.3" cy="1249.7" r="6.3"/><circle cx="1838.4" cy="1252.5" r="6.3"/><circle cx="1790.6" cy="1268.1" r="6.3"/><circle cx="1561.0" cy="1280.8" r="6.3"/><circle cx="1557.6" cy="1287.7" r="6.3"/><circle cx="1579.4" cy="1279.2" r="6.3"/><circle cx="1812.4" cy="1287.7" r="6.3"/><circle cx="1835.0" cy="1292.3" r="6.3"/><circle cx="1842.4" cy="1288.9" r="6.3"/><circle cx="1843.7" cy="1299.7" r="6.3"/><circle cx="1786.6" cy="1302.0" r="6.3"/><circle cx="1653.8" cy="1305.0" r="6.3"/><circle cx="1642.8" cy="1310.7" r="6.3"/><circle cx="1649.0" cy="1316.5" r="6.3"/><circle cx="1646.2" cy="1322.2" r="6.3"/><circle cx="1681.4" cy="1303.1" r="6.3"/><circle cx="1604.1" cy="1310.7" r="6.3"/><circle cx="1609.4" cy="1318.8" r="6.3"/><circle cx="1585.7" cy="1316.0" r="6.3"/><circle cx="1594.4" cy="1323.4" r="6.3"/><circle cx="1563.3" cy="1321.5" r="6.3"/><circle cx="1696.9" cy="1315.3" r="6.3"/><circle cx="1700.3" cy="1313.7" r="6.3"/><circle cx="1716.9" cy="1320.4" r="6.3"/><circle cx="1731.4" cy="1327.5" r="6.3"/><circle cx="1770.5" cy="1319.5" r="6.3"/><circle cx="1792.4" cy="1321.5" r="6.3"/><circle cx="1809.7" cy="1311.4" r="6.3"/><circle cx="1818.2" cy="1305.7" r="6.3"/><circle cx="1816.6" cy="1314.2" r="6.3"/><circle cx="1840.8" cy="1325.7" r="6.3"/><circle cx="1622.7" cy="1333.1" r="6.3"/><circle cx="1666.9" cy="1331.0" r="6.3"/><circle cx="1692.7" cy="1333.3" r="6.3"/><circle cx="1711.1" cy="1338.8" r="6.3"/><circle cx="1775.8" cy="1335.4" r="6.3"/><circle cx="1794.0" cy="1341.1" r="6.3"/><circle cx="1846.0" cy="1342.3" r="6.3"/><circle cx="1581.7" cy="1340.7" r="6.3"/><circle cx="1598.3" cy="1343.4" r="6.3"/><circle cx="1559.9" cy="1346.4" r="6.3"/><circle cx="1632.4" cy="1344.6" r="6.3"/><circle cx="1639.3" cy="1345.7" r="6.3"/><circle cx="1659.3" cy="1348.3" r="6.3"/><circle cx="1672.2" cy="1352.6" r="6.3"/><circle cx="1705.4" cy="1354.9" r="6.3"/><circle cx="1720.6" cy="1353.3" r="6.3"/><circle cx="1734.8" cy="1357.2" r="6.3"/><circle cx="1783.2" cy="1352.2" r="6.3"/><circle cx="1785.5" cy="1357.9" r="6.3"/><circle cx="1797.0" cy="1353.3" r="6.3"/><circle cx="1804.4" cy="1349.9" r="6.3"/><circle cx="1814.3" cy="1349.2" r="6.3"/><circle cx="1832.7" cy="1357.9" r="6.3"/><circle cx="1826.9" cy="1363.2" r="6.3"/><circle cx="1565.2" cy="1363.2" r="6.3"/><circle cx="1615.1" cy="1363.6" r="6.3"/><circle cx="1772.4" cy="1364.0" r="6.3"/><circle cx="1689.5" cy="1367.3" r="6.3"/><circle cx="1701.9" cy="1366.6" r="6.3"/><circle cx="1574.4" cy="1375.1" r="6.3"/><circle cx="1568.6" cy="1382.7" r="6.3"/><circle cx="1627.3" cy="1383.8" r="6.3"/><circle cx="1617.4" cy="1388.4" r="6.3"/><circle cx="1621.3" cy="1391.4" r="6.3"/><circle cx="1661.2" cy="1379.7" r="6.3"/><circle cx="1671.1" cy="1381.5" r="6.3"/><circle cx="1677.3" cy="1384.3" r="6.3"/><circle cx="1663.5" cy="1390.7" r="6.3"/><circle cx="1677.7" cy="1394.7" r="6.3"/><circle cx="1637.0" cy="1395.8" r="6.3"/><circle cx="1645.1" cy="1395.3" r="6.3"/><circle cx="1655.4" cy="1398.1" r="6.3"/><circle cx="1651.3" cy="1405.7" r="6.3"/><circle cx="1683.5" cy="1406.4" r="6.3"/><circle cx="1694.1" cy="1396.5" r="6.3"/><circle cx="1698.5" cy="1401.6" r="6.3"/><circle cx="1707.7" cy="1398.8" r="6.3"/><circle cx="1740.6" cy="1375.8" r="6.3"/><circle cx="1742.4" cy="1383.4" r="6.3"/><circle cx="1733.2" cy="1387.8" r="6.3"/><circle cx="1737.1" cy="1402.7" r="6.3"/><circle cx="1759.0" cy="1379.2" r="6.3"/><circle cx="1763.2" cy="1381.5" r="6.3"/><circle cx="1768.2" cy="1372.3" r="6.3"/><circle cx="1781.6" cy="1366.6" r="6.3"/><circle cx="1781.4" cy="1375.8" r="6.3"/><circle cx="1774.0" cy="1391.9" r="6.3"/><circle cx="1789.0" cy="1394.9" r="6.3"/><circle cx="1806.9" cy="1383.1" r="6.3"/><circle cx="1821.9" cy="1381.5" r="6.3"/><circle cx="1829.7" cy="1386.1" r="6.3"/><circle cx="1825.3" cy="1408.5" r="6.3"/><circle cx="1851.6" cy="1399.3" r="6.3"/><circle cx="1566.8" cy="1400.6" r="6.3"/><circle cx="1572.5" cy="1406.4" r="6.3"/><circle cx="1605.9" cy="1408.0" r="6.3"/><circle cx="1596.7" cy="1422.3" r="6.3"/><circle cx="1611.2" cy="1422.3" r="6.3"/><circle cx="1626.6" cy="1417.2" r="6.3"/><circle cx="1570.9" cy="1430.3" r="6.3"/><circle cx="1576.0" cy="1439.1" r="6.3"/><circle cx="1584.0" cy="1437.9" r="6.3"/><circle cx="1631.7" cy="1435.6" r="6.3"/><circle cx="1635.8" cy="1436.8" r="6.3"/><circle cx="1630.1" cy="1440.2" r="6.3"/><circle cx="1618.6" cy="1451.1" r="6.3"/><circle cx="1607.8" cy="1458.7" r="6.3"/><circle cx="1600.2" cy="1470.6" r="6.3"/><circle cx="1602.5" cy="1473.2" r="6.3"/><circle cx="1685.3" cy="1428.3" r="6.3"/><circle cx="1680.1" cy="1444.4" r="6.3"/><circle cx="1668.8" cy="1455.7" r="6.3"/><circle cx="1687.2" cy="1456.8" r="6.3"/><circle cx="1709.5" cy="1443.0" r="6.3"/><circle cx="1722.2" cy="1441.9" r="6.3"/><circle cx="1739.0" cy="1418.4" r="6.3"/><circle cx="1756.7" cy="1419.1" r="6.3"/><circle cx="1752.1" cy="1424.6" r="6.3"/><circle cx="1748.0" cy="1443.0" r="6.3"/><circle cx="1766.6" cy="1434.9" r="6.3"/><circle cx="1777.4" cy="1425.3" r="6.3"/><circle cx="1801.6" cy="1424.1" r="6.3"/><circle cx="1847.7" cy="1420.2" r="6.3"/><circle cx="1849.3" cy="1422.5" r="6.3"/><circle cx="1805.5" cy="1482.8" r="6.3"/><circle cx="1823.9" cy="1486.3" r="6.3"/><circle cx="1749.8" cy="1499.4" r="6.3"/><circle cx="1578.3" cy="1511.6" r="6.3"/><circle cx="1624.3" cy="1523.1" r="6.3"/><circle cx="1713.0" cy="1528.9" r="6.3"/><circle cx="1744.1" cy="1528.2" r="6.3"/><circle cx="1755.6" cy="1528.2" r="6.3"/><circle cx="1674.3" cy="1542.7" r="6.3"/><circle cx="1820.0" cy="1549.6" r="6.3"/><circle cx="1764.8" cy="1598.0" r="6.3"/></g><rect x="226" y="1043" width="1657.5" height="638" fill="none" stroke="#000" stroke-width="6.2"/><g font-family="&quot;Liberation Sans&quot;, sans-serif" font-weight="bold" font-size="43.5" fill="#000"><text x="258.00" y="1746.6" text-anchor="middle">0</text><text x="390.96" y="1746.6" text-anchor="middle">6</text><text x="523.92" y="1746.6" text-anchor="middle">12</text><text x="656.88" y="1746.6" text-anchor="middle">18</text><text x="789.84" y="1746.6" text-anchor="middle">24</text><text x="922.80" y="1746.6" text-anchor="middle">30</text><text x="1055.76" y="1746.6" text-anchor="middle">36</text><text x="1188.72" y="1746.6" text-anchor="middle">42</text><text x="1321.68" y="1746.6" text-anchor="middle">48</text><text x="1454.64" y="1746.6" text-anchor="middle">54</text><text x="1587.60" y="1746.6" text-anchor="middle">60</text><text x="1720.56" y="1746.6" text-anchor="middle">66</text><text x="1853.52" y="1746.6" text-anchor="middle">72</text><text x="190.7" y="1078.9" text-anchor="end">27</text><text x="190.7" y="1203.6" text-anchor="end">18</text><text x="190.7" y="1328.4" text-anchor="end">9</text><text x="190.7" y="1453.1" text-anchor="end">0</text><text x="190.7" y="1577.8" text-anchor="end">−9</text></g><path d="M258.00 1855.90V1839.90M258.00 2500.10V2516.10M302.32 1855.90V1848.90M302.32 2500.10V2507.10M346.64 1855.90V1848.90M346.64 2500.10V2507.10M390.96 1855.90V1839.90M390.96 2500.10V2516.10M435.28 1855.90V1848.90M435.28 2500.10V2507.10M479.60 1855.90V1848.90M479.60 2500.10V2507.10M523.92 1855.90V1839.90M523.92 2500.10V2516.10M568.24 1855.90V1848.90M568.24 2500.10V2507.10M612.56 1855.90V1848.90M612.56 2500.10V2507.10M656.88 1855.90V1839.90M656.88 2500.10V2516.10M701.20 1855.90V1848.90M701.20 2500.10V2507.10M745.52 1855.90V1848.90M745.52 2500.10V2507.10M789.84 1855.90V1839.90M789.84 2500.10V2516.10M834.16 1855.90V1848.90M834.16 2500.10V2507.10M878.48 1855.90V1848.90M878.48 2500.10V2507.10M922.80 1855.90V1839.90M922.80 2500.10V2516.10M967.12 1855.90V1848.90M967.12 2500.10V2507.10M1011.44 1855.90V1848.90M1011.44 2500.10V2507.10M1055.76 1855.90V1839.90M1055.76 2500.10V2516.10M1100.08 1855.90V1848.90M1100.08 2500.10V2507.10M1144.40 1855.90V1848.90M1144.40 2500.10V2507.10M1188.72 1855.90V1839.90M1188.72 2500.10V2516.10M1233.04 1855.90V1848.90M1233.04 2500.10V2507.10M1277.36 1855.90V1848.90M1277.36 2500.10V2507.10M1321.68 1855.90V1839.90M1321.68 2500.10V2516.10M1366.00 1855.90V1848.90M1366.00 2500.10V2507.10M1410.32 1855.90V1848.90M1410.32 2500.10V2507.10M1454.64 1855.90V1839.90M1454.64 2500.10V2516.10M1498.96 1855.90V1848.90M1498.96 2500.10V2507.10M1543.28 1855.90V1848.90M1543.28 2500.10V2507.10M1587.60 1855.90V1839.90M1587.60 2500.10V2516.10M1631.92 1855.90V1848.90M1631.92 2500.10V2507.10M1676.24 1855.90V1848.90M1676.24 2500.10V2507.10M1720.56 1855.90V1839.90M1720.56 2500.10V2516.10M1764.88 1855.90V1848.90M1764.88 2500.10V2507.10M1809.20 1855.90V1848.90M1809.20 2500.10V2507.10M1853.52 1855.90V1839.90M1853.52 2500.10V2516.10M222.90 1864.40H206.90M1886.60 1864.40H1902.60M222.90 1982.30H206.90M1886.60 1982.30H1902.60M222.90 2100.20H206.90M1886.60 2100.20H1902.60M222.90 2218.10H206.90M1886.60 2218.10H1902.60M222.90 2336.00H206.90M1886.60 2336.00H1902.60M222.90 2453.90H206.90M1886.60 2453.90H1902.60" stroke="#000" stroke-width="2.2" fill="none"/><g fill="#0000ff"><circle cx="281.9" cy="1895.3" r="6.3"/><circle cx="283.5" cy="1957.5" r="6.3"/><circle cx="456.9" cy="1921.8" r="6.3"/><circle cx="455.3" cy="1933.3" r="6.3"/><circle cx="451.8" cy="1987.0" r="6.3"/><circle cx="287.2" cy="2040.9" r="6.3"/><circle cx="291.1" cy="2045.0" r="6.3"/><circle cx="460.8" cy="2043.8" r="6.3"/><circle cx="389.0" cy="2053.1" r="6.3"/><circle cx="400.0" cy="2065.0" r="6.3"/><circle cx="396.3" cy="2075.4" r="6.3"/><circle cx="436.9" cy="2063.0" r="6.3"/><circle cx="294.6" cy="2060.4" r="6.3"/><circle cx="311.4" cy="2063.0" r="6.3"/><circle cx="300.3" cy="2072.2" r="6.3"/><circle cx="296.4" cy="2076.1" r="6.3"/><circle cx="304.9" cy="2074.9" r="6.3"/><circle cx="285.4" cy="2084.8" r="6.3"/><circle cx="370.6" cy="2087.6" r="6.3"/><circle cx="450.0" cy="2081.8" r="6.3"/><circle cx="459.2" cy="2098.4" r="6.3"/><circle cx="444.2" cy="2102.1" r="6.3"/><circle cx="421.9" cy="2100.9" r="6.3"/><circle cx="417.8" cy="2107.9" r="6.3"/><circle cx="423.5" cy="2115.9" r="6.3"/><circle cx="435.0" cy="2112.5" r="6.3"/><circle cx="542.1" cy="2092.9" r="6.3"/><circle cx="538.6" cy="2098.0" r="6.3"/><circle cx="279.6" cy="2109.0" r="6.3"/><circle cx="292.3" cy="2108.8" r="6.3"/><circle cx="288.8" cy="2114.1" r="6.3"/><circle cx="305.6" cy="2102.1" r="6.3"/><circle cx="314.8" cy="2110.2" r="6.3"/><circle cx="313.0" cy="2127.4" r="6.3"/><circle cx="317.6" cy="2126.0" r="6.3"/><circle cx="324.5" cy="2129.0" r="6.3"/><circle cx="505.2" cy="2120.3" r="6.3"/><circle cx="560.6" cy="2121.0" r="6.3"/><circle cx="394.3" cy="2130.6" r="6.3"/><circle cx="427.7" cy="2133.2" r="6.3"/><circle cx="445.4" cy="2132.5" r="6.3"/><circle cx="441.9" cy="2138.2" r="6.3"/><circle cx="440.3" cy="2145.6" r="6.3"/><circle cx="468.4" cy="2135.9" r="6.3"/><circle cx="453.4" cy="2144.7" r="6.3"/><circle cx="462.6" cy="2148.6" r="6.3"/><circle cx="471.9" cy="2151.4" r="6.3"/><circle cx="486.8" cy="2150.9" r="6.3"/><circle cx="490.3" cy="2147.4" r="6.3"/><circle cx="532.9" cy="2144.5" r="6.3"/><circle cx="557.0" cy="2150.9" r="6.3"/><circle cx="307.2" cy="2153.2" r="6.3"/><circle cx="309.1" cy="2160.1" r="6.3"/><circle cx="320.6" cy="2164.7" r="6.3"/><circle cx="326.8" cy="2173.2" r="6.3"/><circle cx="362.5" cy="2161.7" r="6.3"/><circle cx="359.0" cy="2167.7" r="6.3"/><circle cx="409.2" cy="2161.7" r="6.3"/><circle cx="405.1" cy="2171.6" r="6.3"/><circle cx="429.3" cy="2162.9" r="6.3"/><circle cx="482.9" cy="2164.7" r="6.3"/><circle cx="485.2" cy="2169.8" r="6.3"/><circle cx="447.7" cy="2173.5" r="6.3"/><circle cx="473.7" cy="2173.5" r="6.3"/><circle cx="374.5" cy="2179.4" r="6.3"/><circle cx="318.8" cy="2180.0" r="6.3"/><circle cx="278.2" cy="2182.9" r="6.3"/><circle cx="298.5" cy="2180.9" r="6.3"/><circle cx="432.4" cy="2180.6" r="6.3"/><circle cx="545.5" cy="2180.0" r="6.3"/><circle cx="339.0" cy="2186.5" r="6.3"/><circle cx="390.8" cy="2185.6" r="6.3"/><circle cx="466.1" cy="2185.6" r="6.3"/><circle cx="464.5" cy="2191.3" r="6.3"/><circle cx="529.4" cy="2188.3" r="6.3"/><circle cx="547.8" cy="2187.9" r="6.3"/><circle cx="551.3" cy="2192.2" r="6.3"/><circle cx="302.2" cy="2209.7" r="6.3"/><circle cx="331.4" cy="2215.5" r="6.3"/><circle cx="376.3" cy="2217.1" r="6.3"/><circle cx="377.9" cy="2224.7" r="6.3"/><circle cx="387.1" cy="2220.1" r="6.3"/><circle cx="407.4" cy="2215.5" r="6.3"/><circle cx="416.6" cy="2194.5" r="6.3"/><circle cx="410.8" cy="2199.4" r="6.3"/><circle cx="438.5" cy="2204.9" r="6.3"/><circle cx="469.6" cy="2205.6" r="6.3"/><circle cx="481.1" cy="2209.7" r="6.3"/><circle cx="493.7" cy="2199.8" r="6.3"/><circle cx="508.7" cy="2197.5" r="6.3"/><circle cx="506.4" cy="2205.6" r="6.3"/><circle cx="516.3" cy="2207.4" r="6.3"/><circle cx="501.3" cy="2224.7" r="6.3"/><circle cx="519.7" cy="2223.6" r="6.3"/><circle cx="479.5" cy="2229.8" r="6.3"/><circle cx="514.4" cy="2234.4" r="6.3"/><circle cx="555.2" cy="2230.9" r="6.3"/><circle cx="270.9" cy="2252.1" r="6.3"/><circle cx="335.3" cy="2237.8" r="6.3"/><circle cx="350.5" cy="2236.2" r="6.3"/><circle cx="347.5" cy="2245.2" r="6.3"/><circle cx="364.8" cy="2241.3" r="6.3"/><circle cx="321.7" cy="2255.6" r="6.3"/><circle cx="329.8" cy="2252.8" r="6.3"/><circle cx="327.5" cy="2259.7" r="6.3"/><circle cx="342.5" cy="2258.5" r="6.3"/><circle cx="368.3" cy="2254.4" r="6.3"/><circle cx="385.5" cy="2253.9" r="6.3"/><circle cx="383.2" cy="2264.3" r="6.3"/><circle cx="366.6" cy="2267.8" r="6.3"/><circle cx="421.9" cy="2243.1" r="6.3"/><circle cx="425.8" cy="2243.1" r="6.3"/><circle cx="488.4" cy="2252.1" r="6.3"/><circle cx="503.4" cy="2245.4" r="6.3"/><circle cx="521.8" cy="2249.3" r="6.3"/><circle cx="523.7" cy="2256.2" r="6.3"/><circle cx="527.1" cy="2262.0" r="6.3"/><circle cx="531.3" cy="2266.6" r="6.3"/><circle cx="534.7" cy="2246.3" r="6.3"/><circle cx="510.5" cy="2257.4" r="6.3"/><circle cx="476.5" cy="2262.0" r="6.3"/><circle cx="475.3" cy="2266.6" r="6.3"/><circle cx="268.8" cy="2276.3" r="6.3"/><circle cx="492.1" cy="2275.8" r="6.3"/><circle cx="338.3" cy="2282.7" r="6.3"/><circle cx="345.2" cy="2291.9" r="6.3"/><circle cx="351.7" cy="2294.2" r="6.3"/><circle cx="356.1" cy="2282.7" r="6.3"/><circle cx="372.4" cy="2291.2" r="6.3"/><circle cx="380.9" cy="2300.0" r="6.3"/><circle cx="392.4" cy="2293.1" r="6.3"/><circle cx="403.9" cy="2284.3" r="6.3"/><circle cx="517.9" cy="2290.8" r="6.3"/><circle cx="558.7" cy="2285.0" r="6.3"/><circle cx="535.9" cy="2295.4" r="6.3"/><circle cx="540.9" cy="2295.4" r="6.3"/><circle cx="415.0" cy="2306.4" r="6.3"/><circle cx="401.6" cy="2315.0" r="6.3"/><circle cx="496.0" cy="2303.9" r="6.3"/><circle cx="499.5" cy="2313.8" r="6.3"/><circle cx="547.4" cy="2306.4" r="6.3"/><circle cx="274.6" cy="2320.2" r="6.3"/><circle cx="265.1" cy="2325.8" r="6.3"/><circle cx="257.7" cy="2335.7" r="6.3"/><circle cx="267.0" cy="2345.6" r="6.3"/><circle cx="361.3" cy="2317.3" r="6.3"/><circle cx="353.3" cy="2323.5" r="6.3"/><circle cx="344.1" cy="2330.4" r="6.3"/><circle cx="512.1" cy="2323.0" r="6.3"/><circle cx="525.5" cy="2340.3" r="6.3"/><circle cx="413.1" cy="2346.5" r="6.3"/><circle cx="333.3" cy="2361.0" r="6.3"/><circle cx="397.7" cy="2366.8" r="6.3"/><circle cx="272.7" cy="2370.7" r="6.3"/><circle cx="276.2" cy="2388.6" r="6.3"/><circle cx="261.2" cy="2396.2" r="6.3"/><circle cx="562.5" cy="2372.5" r="6.3"/><circle cx="552.9" cy="2385.6" r="6.3"/><circle cx="263.5" cy="2427.3" r="6.3"/><circle cx="809.8" cy="1871.2" r="6.3"/><circle cx="883.9" cy="1934.0" r="6.3"/><circle cx="795.3" cy="1952.9" r="6.3"/><circle cx="811.6" cy="1951.3" r="6.3"/><circle cx="666.3" cy="1976.6" r="6.3"/><circle cx="859.7" cy="1983.3" r="6.3"/><circle cx="642.2" cy="2002.9" r="6.3"/><circle cx="702.7" cy="2010.5" r="6.3"/><circle cx="815.5" cy="2019.7" r="6.3"/><circle cx="845.0" cy="2020.1" r="6.3"/><circle cx="854.0" cy="2033.0" r="6.3"/><circle cx="798.9" cy="2037.4" r="6.3"/><circle cx="806.3" cy="2039.9" r="6.3"/><circle cx="868.5" cy="2043.2" r="6.3"/><circle cx="872.6" cy="2049.6" r="6.3"/><circle cx="634.3" cy="2044.5" r="6.3"/><circle cx="638.2" cy="2057.0" r="6.3"/><circle cx="686.1" cy="2044.3" r="6.3"/><circle cx="578.4" cy="2056.5" r="6.3"/><circle cx="599.6" cy="2063.9" r="6.3"/><circle cx="726.9" cy="2054.9" r="6.3"/><circle cx="710.1" cy="2061.6" r="6.3"/><circle cx="649.1" cy="2073.8" r="6.3"/><circle cx="662.0" cy="2074.9" r="6.3"/><circle cx="654.4" cy="2081.8" r="6.3"/><circle cx="721.1" cy="2077.2" r="6.3"/><circle cx="729.2" cy="2077.2" r="6.3"/><circle cx="801.7" cy="2074.9" r="6.3"/><circle cx="804.0" cy="2079.5" r="6.3"/><circle cx="817.4" cy="2074.9" r="6.3"/><circle cx="586.4" cy="2080.2" r="6.3"/><circle cx="593.8" cy="2090.6" r="6.3"/><circle cx="643.5" cy="2093.8" r="6.3"/><circle cx="676.9" cy="2091.0" r="6.3"/><circle cx="704.5" cy="2086.4" r="6.3"/><circle cx="697.0" cy="2099.1" r="6.3"/><circle cx="736.1" cy="2092.9" r="6.3"/><circle cx="748.8" cy="2103.2" r="6.3"/><circle cx="880.0" cy="2088.7" r="6.3"/><circle cx="592.2" cy="2118.2" r="6.3"/><circle cx="605.3" cy="2119.8" r="6.3"/><circle cx="584.6" cy="2134.1" r="6.3"/><circle cx="600.9" cy="2134.8" r="6.3"/><circle cx="615.2" cy="2135.2" r="6.3"/><circle cx="625.6" cy="2135.9" r="6.3"/><circle cx="612.2" cy="2144.0" r="6.3"/><circle cx="647.5" cy="2125.1" r="6.3"/><circle cx="684.3" cy="2124.9" r="6.3"/><circle cx="699.3" cy="2127.4" r="6.3"/><circle cx="715.4" cy="2129.5" r="6.3"/><circle cx="708.5" cy="2111.8" r="6.3"/><circle cx="724.6" cy="2110.2" r="6.3"/><circle cx="723.4" cy="2114.1" r="6.3"/><circle cx="730.3" cy="2132.5" r="6.3"/><circle cx="789.7" cy="2114.1" r="6.3"/><circle cx="813.7" cy="2106.0" r="6.3"/><circle cx="833.9" cy="2109.5" r="6.3"/><circle cx="842.0" cy="2113.4" r="6.3"/><circle cx="831.6" cy="2117.5" r="6.3"/><circle cx="835.8" cy="2126.3" r="6.3"/><circle cx="855.8" cy="2108.3" r="6.3"/><circle cx="866.2" cy="2111.8" r="6.3"/><circle cx="874.2" cy="2117.5" r="6.3"/><circle cx="882.3" cy="2118.7" r="6.3"/><circle cx="889.7" cy="2114.1" r="6.3"/><circle cx="660.1" cy="2135.5" r="6.3"/><circle cx="668.2" cy="2137.1" r="6.3"/><circle cx="678.5" cy="2138.2" r="6.3"/><circle cx="797.1" cy="2145.8" r="6.3"/><circle cx="830.0" cy="2140.5" r="6.3"/><circle cx="846.6" cy="2145.1" r="6.3"/><circle cx="837.4" cy="2155.0" r="6.3"/><circle cx="848.4" cy="2154.4" r="6.3"/><circle cx="886.9" cy="2137.1" r="6.3"/><circle cx="891.0" cy="2146.5" r="6.3"/><circle cx="739.5" cy="2152.1" r="6.3"/><circle cx="664.7" cy="2155.5" r="6.3"/><circle cx="672.8" cy="2150.4" r="6.3"/><circle cx="691.2" cy="2152.7" r="6.3"/><circle cx="694.6" cy="2156.7" r="6.3"/><circle cx="706.6" cy="2156.7" r="6.3"/><circle cx="596.8" cy="2165.9" r="6.3"/><circle cx="617.5" cy="2160.1" r="6.3"/><circle cx="614.1" cy="2166.6" r="6.3"/><circle cx="629.0" cy="2170.0" r="6.3"/><circle cx="653.2" cy="2167.0" r="6.3"/><circle cx="695.8" cy="2167.0" r="6.3"/><circle cx="690.0" cy="2173.9" r="6.3"/><circle cx="675.1" cy="2171.6" r="6.3"/><circle cx="671.2" cy="2178.6" r="6.3"/><circle cx="713.8" cy="2176.3" r="6.3"/><circle cx="745.3" cy="2169.3" r="6.3"/><circle cx="808.2" cy="2172.1" r="6.3"/><circle cx="820.8" cy="2166.6" r="6.3"/><circle cx="822.9" cy="2172.8" r="6.3"/><circle cx="839.7" cy="2168.6" r="6.3"/><circle cx="878.1" cy="2172.1" r="6.3"/><circle cx="791.1" cy="2178.6" r="6.3"/><circle cx="683.1" cy="2180.9" r="6.3"/><circle cx="793.2" cy="2187.2" r="6.3"/><circle cx="606.7" cy="2183.3" r="6.3"/><circle cx="687.7" cy="2189.9" r="6.3"/><circle cx="650.9" cy="2191.8" r="6.3"/><circle cx="656.7" cy="2198.0" r="6.3"/><circle cx="623.3" cy="2195.9" r="6.3"/><circle cx="627.9" cy="2195.2" r="6.3"/><circle cx="588.3" cy="2199.8" r="6.3"/><circle cx="572.6" cy="2204.4" r="6.3"/><circle cx="564.6" cy="2208.6" r="6.3"/><circle cx="574.5" cy="2207.9" r="6.3"/><circle cx="630.2" cy="2206.7" r="6.3"/><circle cx="640.1" cy="2210.2" r="6.3"/><circle cx="608.3" cy="2210.9" r="6.3"/><circle cx="590.4" cy="2218.3" r="6.3"/><circle cx="619.8" cy="2218.3" r="6.3"/><circle cx="621.7" cy="2227.5" r="6.3"/><circle cx="580.7" cy="2231.4" r="6.3"/><circle cx="658.5" cy="2230.5" r="6.3"/><circle cx="680.8" cy="2210.7" r="6.3"/><circle cx="701.1" cy="2228.2" r="6.3"/><circle cx="711.9" cy="2218.9" r="6.3"/><circle cx="719.5" cy="2194.1" r="6.3"/><circle cx="717.2" cy="2197.1" r="6.3"/><circle cx="732.2" cy="2190.6" r="6.3"/><circle cx="752.2" cy="2184.9" r="6.3"/><circle cx="749.9" cy="2188.8" r="6.3"/><circle cx="755.7" cy="2197.1" r="6.3"/><circle cx="769.0" cy="2199.8" r="6.3"/><circle cx="733.8" cy="2208.6" r="6.3"/><circle cx="738.4" cy="2216.6" r="6.3"/><circle cx="761.4" cy="2222.9" r="6.3"/><circle cx="767.2" cy="2229.3" r="6.3"/><circle cx="779.8" cy="2218.7" r="6.3"/><circle cx="784.0" cy="2231.4" r="6.3"/><circle cx="754.0" cy="2238.3" r="6.3"/><circle cx="828.2" cy="2216.0" r="6.3"/><circle cx="819.0" cy="2237.1" r="6.3"/><circle cx="852.4" cy="2208.6" r="6.3"/><circle cx="865.0" cy="2189.0" r="6.3"/><circle cx="861.6" cy="2230.9" r="6.3"/><circle cx="857.7" cy="2241.3" r="6.3"/><circle cx="893.2" cy="2217.8" r="6.3"/><circle cx="885.7" cy="2227.9" r="6.3"/><circle cx="610.6" cy="2245.4" r="6.3"/><circle cx="569.9" cy="2258.1" r="6.3"/><circle cx="632.5" cy="2256.7" r="6.3"/><circle cx="743.5" cy="2252.8" r="6.3"/><circle cx="765.6" cy="2253.5" r="6.3"/><circle cx="758.0" cy="2263.1" r="6.3"/><circle cx="741.4" cy="2270.1" r="6.3"/><circle cx="776.4" cy="2270.1" r="6.3"/><circle cx="778.7" cy="2274.2" r="6.3"/><circle cx="824.7" cy="2252.8" r="6.3"/><circle cx="826.3" cy="2283.2" r="6.3"/><circle cx="870.3" cy="2275.1" r="6.3"/><circle cx="876.5" cy="2277.7" r="6.3"/><circle cx="603.2" cy="2271.2" r="6.3"/><circle cx="583.0" cy="2275.4" r="6.3"/><circle cx="636.4" cy="2288.0" r="6.3"/><circle cx="568.0" cy="2295.4" r="6.3"/><circle cx="645.6" cy="2308.0" r="6.3"/><circle cx="763.3" cy="2302.3" r="6.3"/><circle cx="774.1" cy="2303.4" r="6.3"/><circle cx="771.3" cy="2311.5" r="6.3"/><circle cx="787.9" cy="2313.1" r="6.3"/><circle cx="760.3" cy="2323.0" r="6.3"/><circle cx="786.1" cy="2325.3" r="6.3"/><circle cx="773.4" cy="2341.0" r="6.3"/><circle cx="747.1" cy="2354.1" r="6.3"/><circle cx="565.7" cy="2390.2" r="6.3"/><circle cx="782.1" cy="2412.1" r="6.3"/><circle cx="1112.7" cy="1973.6" r="6.3"/><circle cx="988.8" cy="2008.9" r="6.3"/><circle cx="1164.5" cy="2000.8" r="6.3"/><circle cx="1181.1" cy="2009.3" r="6.3"/><circle cx="966.9" cy="2025.4" r="6.3"/><circle cx="930.1" cy="2031.2" r="6.3"/><circle cx="900.2" cy="2040.4" r="6.3"/><circle cx="910.1" cy="2041.5" r="6.3"/><circle cx="911.2" cy="2057.7" r="6.3"/><circle cx="1125.8" cy="2037.6" r="6.3"/><circle cx="1141.9" cy="2045.5" r="6.3"/><circle cx="1131.1" cy="2054.7" r="6.3"/><circle cx="1171.8" cy="2027.7" r="6.3"/><circle cx="1168.4" cy="2035.8" r="6.3"/><circle cx="1170.2" cy="2046.1" r="6.3"/><circle cx="1000.3" cy="2056.0" r="6.3"/><circle cx="1026.1" cy="2062.7" r="6.3"/><circle cx="898.6" cy="2072.6" r="6.3"/><circle cx="895.6" cy="2077.2" r="6.3"/><circle cx="902.5" cy="2084.1" r="6.3"/><circle cx="905.9" cy="2096.8" r="6.3"/><circle cx="926.7" cy="2070.3" r="6.3"/><circle cx="942.8" cy="2069.9" r="6.3"/><circle cx="953.8" cy="2074.9" r="6.3"/><circle cx="947.4" cy="2078.4" r="6.3"/><circle cx="957.7" cy="2085.3" r="6.3"/><circle cx="938.9" cy="2087.6" r="6.3"/><circle cx="937.0" cy="2101.9" r="6.3"/><circle cx="979.6" cy="2084.1" r="6.3"/><circle cx="986.0" cy="2087.6" r="6.3"/><circle cx="994.6" cy="2083.4" r="6.3"/><circle cx="1037.2" cy="2083.7" r="6.3"/><circle cx="1077.9" cy="2090.6" r="6.3"/><circle cx="1120.0" cy="2078.4" r="6.3"/><circle cx="1136.9" cy="2072.6" r="6.3"/><circle cx="1132.7" cy="2081.8" r="6.3"/><circle cx="1121.9" cy="2089.9" r="6.3"/><circle cx="1159.2" cy="2078.4" r="6.3"/><circle cx="1146.1" cy="2093.3" r="6.3"/><circle cx="1178.8" cy="2073.8" r="6.3"/><circle cx="1188.7" cy="2076.8" r="6.3"/><circle cx="1197.2" cy="2087.6" r="6.3"/><circle cx="1195.6" cy="2091.0" r="6.3"/><circle cx="1209.8" cy="2093.3" r="6.3"/><circle cx="1207.5" cy="2100.3" r="6.3"/><circle cx="1214.4" cy="2109.0" r="6.3"/><circle cx="1018.7" cy="2104.2" r="6.3"/><circle cx="935.4" cy="2115.2" r="6.3"/><circle cx="907.1" cy="2125.6" r="6.3"/><circle cx="915.1" cy="2123.3" r="6.3"/><circle cx="924.3" cy="2121.0" r="6.3"/><circle cx="922.0" cy="2132.9" r="6.3"/><circle cx="948.5" cy="2118.7" r="6.3"/><circle cx="961.6" cy="2118.0" r="6.3"/><circle cx="970.4" cy="2123.3" r="6.3"/><circle cx="987.2" cy="2127.9" r="6.3"/><circle cx="1002.2" cy="2133.6" r="6.3"/><circle cx="1015.3" cy="2122.1" r="6.3"/><circle cx="1023.3" cy="2118.7" r="6.3"/><circle cx="1020.6" cy="2125.6" r="6.3"/><circle cx="1034.9" cy="2113.6" r="6.3"/><circle cx="1048.2" cy="2114.5" r="6.3"/><circle cx="1081.6" cy="2126.3" r="6.3"/><circle cx="1124.2" cy="2121.0" r="6.3"/><circle cx="1114.3" cy="2128.3" r="6.3"/><circle cx="1109.0" cy="2138.2" r="6.3"/><circle cx="1153.4" cy="2119.8" r="6.3"/><circle cx="1161.0" cy="2132.9" r="6.3"/><circle cx="1182.9" cy="2113.6" r="6.3"/><circle cx="1186.3" cy="2126.7" r="6.3"/><circle cx="1185.0" cy="2140.1" r="6.3"/><circle cx="1198.3" cy="2133.6" r="6.3"/><circle cx="1205.2" cy="2134.8" r="6.3"/><circle cx="1201.1" cy="2142.8" r="6.3"/><circle cx="1216.3" cy="2138.2" r="6.3"/><circle cx="904.3" cy="2152.5" r="6.3"/><circle cx="931.7" cy="2154.8" r="6.3"/><circle cx="950.4" cy="2147.4" r="6.3"/><circle cx="952.0" cy="2152.1" r="6.3"/><circle cx="965.8" cy="2144.0" r="6.3"/><circle cx="976.1" cy="2144.0" r="6.3"/><circle cx="982.4" cy="2144.5" r="6.3"/><circle cx="972.2" cy="2148.6" r="6.3"/><circle cx="963.0" cy="2154.4" r="6.3"/><circle cx="1028.0" cy="2136.6" r="6.3"/><circle cx="1029.8" cy="2148.6" r="6.3"/><circle cx="1042.9" cy="2134.8" r="6.3"/><circle cx="1039.5" cy="2142.8" r="6.3"/><circle cx="1044.8" cy="2146.3" r="6.3"/><circle cx="1059.0" cy="2146.3" r="6.3"/><circle cx="1075.8" cy="2140.1" r="6.3"/><circle cx="1118.2" cy="2146.8" r="6.3"/><circle cx="1129.3" cy="2145.6" r="6.3"/><circle cx="1140.3" cy="2141.7" r="6.3"/><circle cx="1138.5" cy="2146.3" r="6.3"/><circle cx="1150.0" cy="2152.5" r="6.3"/><circle cx="1150.0" cy="2159.0" r="6.3"/><circle cx="1156.9" cy="2161.3" r="6.3"/><circle cx="1135.0" cy="2156.2" r="6.3"/><circle cx="1177.6" cy="2152.7" r="6.3"/><circle cx="1212.1" cy="2157.3" r="6.3"/><circle cx="1085.5" cy="2160.8" r="6.3"/><circle cx="1095.9" cy="2168.2" r="6.3"/><circle cx="1110.8" cy="2162.0" r="6.3"/><circle cx="1003.8" cy="2165.9" r="6.3"/><circle cx="894.9" cy="2171.6" r="6.3"/><circle cx="928.3" cy="2174.4" r="6.3"/><circle cx="1147.7" cy="2169.3" r="6.3"/><circle cx="1194.4" cy="2171.6" r="6.3"/><circle cx="1203.2" cy="2179.4" r="6.3"/><circle cx="1222.8" cy="2172.5" r="6.3"/><circle cx="1221.3" cy="2178.7" r="6.3"/><circle cx="1006.1" cy="2178.8" r="6.3"/><circle cx="1099.8" cy="2179.6" r="6.3"/><circle cx="1162.4" cy="2178.5" r="6.3"/><circle cx="1013.0" cy="2187.9" r="6.3"/><circle cx="1009.5" cy="2197.5" r="6.3"/><circle cx="1011.8" cy="2205.6" r="6.3"/><circle cx="1007.2" cy="2213.2" r="6.3"/><circle cx="1015.3" cy="2212.5" r="6.3"/><circle cx="1155.3" cy="2185.6" r="6.3"/><circle cx="1217.9" cy="2191.8" r="6.3"/><circle cx="1190.3" cy="2189.5" r="6.3"/><circle cx="1192.1" cy="2196.8" r="6.3"/><circle cx="1219.7" cy="2212.0" r="6.3"/><circle cx="917.0" cy="2207.2" r="6.3"/><circle cx="933.6" cy="2199.4" r="6.3"/><circle cx="941.2" cy="2188.8" r="6.3"/><circle cx="945.1" cy="2186.7" r="6.3"/><circle cx="955.9" cy="2185.3" r="6.3"/><circle cx="974.3" cy="2185.3" r="6.3"/><circle cx="969.2" cy="2195.2" r="6.3"/><circle cx="959.3" cy="2202.8" r="6.3"/><circle cx="978.0" cy="2205.1" r="6.3"/><circle cx="990.7" cy="2208.4" r="6.3"/><circle cx="1033.2" cy="2189.5" r="6.3"/><circle cx="1052.1" cy="2182.1" r="6.3"/><circle cx="1053.7" cy="2201.0" r="6.3"/><circle cx="1064.8" cy="2202.1" r="6.3"/><circle cx="1068.7" cy="2207.9" r="6.3"/><circle cx="1039.0" cy="2205.6" r="6.3"/><circle cx="1031.4" cy="2216.6" r="6.3"/><circle cx="1046.4" cy="2218.9" r="6.3"/><circle cx="1089.0" cy="2198.7" r="6.3"/><circle cx="1094.7" cy="2194.1" r="6.3"/><circle cx="1116.1" cy="2190.2" r="6.3"/><circle cx="1127.4" cy="2204.9" r="6.3"/><circle cx="1144.2" cy="2202.1" r="6.3"/><circle cx="1105.5" cy="2210.2" r="6.3"/><circle cx="1090.6" cy="2216.0" r="6.3"/><circle cx="1102.8" cy="2228.6" r="6.3"/><circle cx="1107.8" cy="2232.5" r="6.3"/><circle cx="1173.7" cy="2221.0" r="6.3"/><circle cx="918.6" cy="2243.6" r="6.3"/><circle cx="920.9" cy="2248.9" r="6.3"/><circle cx="983.5" cy="2235.5" r="6.3"/><circle cx="1066.6" cy="2234.4" r="6.3"/><circle cx="1072.2" cy="2237.1" r="6.3"/><circle cx="1060.2" cy="2250.5" r="6.3"/><circle cx="1055.1" cy="2253.9" r="6.3"/><circle cx="1049.8" cy="2265.5" r="6.3"/><circle cx="1057.9" cy="2266.6" r="6.3"/><circle cx="1063.6" cy="2264.3" r="6.3"/><circle cx="1166.5" cy="2265.9" r="6.3"/><circle cx="998.5" cy="2300.4" r="6.3"/><circle cx="1074.0" cy="2301.8" r="6.3"/><circle cx="1101.6" cy="2307.6" r="6.3"/><circle cx="1079.8" cy="2315.6" r="6.3"/><circle cx="1070.5" cy="2327.2" r="6.3"/><circle cx="1175.3" cy="2331.1" r="6.3"/><circle cx="992.7" cy="2345.3" r="6.3"/><circle cx="996.4" cy="2350.6" r="6.3"/><circle cx="1082.7" cy="2378.3" r="6.3"/><circle cx="1092.4" cy="2374.8" r="6.3"/><circle cx="1098.2" cy="2373.7" r="6.3"/><circle cx="1341.7" cy="1940.9" r="6.3"/><circle cx="1334.3" cy="2012.3" r="6.3"/><circle cx="1340.5" cy="2018.5" r="6.3"/><circle cx="1344.0" cy="2027.7" r="6.3"/><circle cx="1323.3" cy="2019.2" r="6.3"/><circle cx="1511.6" cy="2030.0" r="6.3"/><circle cx="1236.5" cy="2038.1" r="6.3"/><circle cx="1275.4" cy="2045.7" r="6.3"/><circle cx="1321.4" cy="2040.9" r="6.3"/><circle cx="1336.4" cy="2046.8" r="6.3"/><circle cx="1391.6" cy="2045.5" r="6.3"/><circle cx="1227.3" cy="2073.3" r="6.3"/><circle cx="1330.6" cy="2069.2" r="6.3"/><circle cx="1327.2" cy="2081.4" r="6.3"/><circle cx="1410.1" cy="2076.1" r="6.3"/><circle cx="1247.3" cy="2080.7" r="6.3"/><circle cx="1262.3" cy="2079.5" r="6.3"/><circle cx="1257.2" cy="2086.4" r="6.3"/><circle cx="1273.8" cy="2086.4" r="6.3"/><circle cx="1269.2" cy="2099.8" r="6.3"/><circle cx="1279.5" cy="2098.0" r="6.3"/><circle cx="1271.5" cy="2110.6" r="6.3"/><circle cx="1281.1" cy="2113.4" r="6.3"/><circle cx="1345.1" cy="2088.1" r="6.3"/><circle cx="1351.4" cy="2087.1" r="6.3"/><circle cx="1493.2" cy="2089.4" r="6.3"/><circle cx="1380.8" cy="2099.8" r="6.3"/><circle cx="1415.8" cy="2103.0" r="6.3"/><circle cx="1436.1" cy="2110.6" r="6.3"/><circle cx="1447.1" cy="2109.0" r="6.3"/><circle cx="1543.1" cy="2099.8" r="6.3"/><circle cx="1552.3" cy="2100.9" r="6.3"/><circle cx="1332.5" cy="2114.1" r="6.3"/><circle cx="1364.0" cy="2116.8" r="6.3"/><circle cx="1400.9" cy="2114.5" r="6.3"/><circle cx="1386.1" cy="2120.5" r="6.3"/><circle cx="1390.0" cy="2130.2" r="6.3"/><circle cx="1284.6" cy="2126.3" r="6.3"/><circle cx="1253.0" cy="2127.4" r="6.3"/><circle cx="1259.5" cy="2128.3" r="6.3"/><circle cx="1261.1" cy="2138.9" r="6.3"/><circle cx="1266.9" cy="2148.6" r="6.3"/><circle cx="1234.2" cy="2134.8" r="6.3"/><circle cx="1240.4" cy="2138.2" r="6.3"/><circle cx="1225.4" cy="2146.3" r="6.3"/><circle cx="1317.5" cy="2135.9" r="6.3"/><circle cx="1325.6" cy="2134.3" r="6.3"/><circle cx="1329.0" cy="2145.1" r="6.3"/><circle cx="1338.2" cy="2132.5" r="6.3"/><circle cx="1349.3" cy="2124.4" r="6.3"/><circle cx="1347.0" cy="2134.8" r="6.3"/><circle cx="1353.2" cy="2134.8" r="6.3"/><circle cx="1376.9" cy="2134.8" r="6.3"/><circle cx="1504.0" cy="2130.9" r="6.3"/><circle cx="1517.3" cy="2129.5" r="6.3"/><circle cx="1448.7" cy="2136.4" r="6.3"/><circle cx="1465.5" cy="2134.8" r="6.3"/><circle cx="1456.3" cy="2144.0" r="6.3"/><circle cx="1467.2" cy="2146.8" r="6.3"/><circle cx="1395.3" cy="2145.6" r="6.3"/><circle cx="1405.0" cy="2144.5" r="6.3"/><circle cx="1411.9" cy="2144.5" r="6.3"/><circle cx="1231.2" cy="2161.3" r="6.3"/><circle cx="1245.7" cy="2165.9" r="6.3"/><circle cx="1251.4" cy="2166.3" r="6.3"/><circle cx="1238.1" cy="2174.6" r="6.3"/><circle cx="1249.6" cy="2178.6" r="6.3"/><circle cx="1288.0" cy="2170.9" r="6.3"/><circle cx="1361.9" cy="2157.3" r="6.3"/><circle cx="1375.1" cy="2153.2" r="6.3"/><circle cx="1384.3" cy="2159.0" r="6.3"/><circle cx="1378.5" cy="2171.6" r="6.3"/><circle cx="1445.3" cy="2153.2" r="6.3"/><circle cx="1500.5" cy="2153.9" r="6.3"/><circle cx="1546.6" cy="2153.2" r="6.3"/><circle cx="1530.5" cy="2161.3" r="6.3"/><circle cx="1539.7" cy="2161.3" r="6.3"/><circle cx="1428.5" cy="2167.7" r="6.3"/><circle cx="1430.3" cy="2171.2" r="6.3"/><circle cx="1460.3" cy="2167.0" r="6.3"/><circle cx="1498.7" cy="2170.5" r="6.3"/><circle cx="1541.2" cy="2180.0" r="6.3"/><circle cx="1243.8" cy="2196.8" r="6.3"/><circle cx="1277.2" cy="2188.3" r="6.3"/><circle cx="1283.0" cy="2192.9" r="6.3"/><circle cx="1228.9" cy="2223.6" r="6.3"/><circle cx="1254.9" cy="2218.3" r="6.3"/><circle cx="1264.1" cy="2236.0" r="6.3"/><circle cx="1286.4" cy="2237.4" r="6.3"/><circle cx="1308.3" cy="2232.1" r="6.3"/><circle cx="1314.1" cy="2233.2" r="6.3"/><circle cx="1316.4" cy="2240.8" r="6.3"/><circle cx="1242.0" cy="2255.8" r="6.3"/><circle cx="1289.9" cy="2256.9" r="6.3"/><circle cx="1300.9" cy="2267.1" r="6.3"/><circle cx="1299.1" cy="2275.4" r="6.3"/><circle cx="1311.8" cy="2284.6" r="6.3"/><circle cx="1319.8" cy="2287.8" r="6.3"/><circle cx="1291.7" cy="2295.8" r="6.3"/><circle cx="1303.2" cy="2316.8" r="6.3"/><circle cx="1293.3" cy="2323.0" r="6.3"/><circle cx="1295.6" cy="2339.1" r="6.3"/><circle cx="1310.6" cy="2344.2" r="6.3"/><circle cx="1304.8" cy="2357.5" r="6.3"/><circle cx="1306.5" cy="2361.5" r="6.3"/><circle cx="1297.5" cy="2442.3" r="6.3"/><circle cx="1367.5" cy="2196.4" r="6.3"/><circle cx="1358.3" cy="2201.0" r="6.3"/><circle cx="1388.2" cy="2184.9" r="6.3"/><circle cx="1396.9" cy="2192.9" r="6.3"/><circle cx="1421.1" cy="2197.1" r="6.3"/><circle cx="1458.6" cy="2191.8" r="6.3"/><circle cx="1462.1" cy="2195.2" r="6.3"/><circle cx="1487.4" cy="2190.2" r="6.3"/><circle cx="1531.6" cy="2190.2" r="6.3"/><circle cx="1371.2" cy="2213.2" r="6.3"/><circle cx="1354.3" cy="2218.3" r="6.3"/><circle cx="1356.6" cy="2221.7" r="6.3"/><circle cx="1372.8" cy="2228.6" r="6.3"/><circle cx="1393.5" cy="2218.9" r="6.3"/><circle cx="1402.7" cy="2216.4" r="6.3"/><circle cx="1433.8" cy="2221.7" r="6.3"/><circle cx="1452.2" cy="2212.0" r="6.3"/><circle cx="1453.8" cy="2220.6" r="6.3"/><circle cx="1463.7" cy="2222.9" r="6.3"/><circle cx="1470.6" cy="2227.5" r="6.3"/><circle cx="1476.8" cy="2215.5" r="6.3"/><circle cx="1496.6" cy="2207.4" r="6.3"/><circle cx="1506.3" cy="2208.6" r="6.3"/><circle cx="1553.2" cy="2203.5" r="6.3"/><circle cx="1550.0" cy="2208.4" r="6.3"/><circle cx="1545.0" cy="2220.1" r="6.3"/><circle cx="1513.7" cy="2236.0" r="6.3"/><circle cx="1481.0" cy="2239.0" r="6.3"/><circle cx="1486.7" cy="2244.7" r="6.3"/><circle cx="1494.8" cy="2248.6" r="6.3"/><circle cx="1509.8" cy="2249.3" r="6.3"/><circle cx="1524.7" cy="2252.8" r="6.3"/><circle cx="1519.0" cy="2260.2" r="6.3"/><circle cx="1537.4" cy="2243.6" r="6.3"/><circle cx="1548.9" cy="2243.6" r="6.3"/><circle cx="1490.9" cy="2258.5" r="6.3"/><circle cx="1413.7" cy="2251.2" r="6.3"/><circle cx="1419.3" cy="2261.5" r="6.3"/><circle cx="1369.3" cy="2260.4" r="6.3"/><circle cx="1451.0" cy="2255.8" r="6.3"/><circle cx="1441.8" cy="2257.4" r="6.3"/><circle cx="1437.2" cy="2265.5" r="6.3"/><circle cx="1382.4" cy="2271.2" r="6.3"/><circle cx="1399.2" cy="2268.9" r="6.3"/><circle cx="1365.4" cy="2277.0" r="6.3"/><circle cx="1423.4" cy="2280.4" r="6.3"/><circle cx="1431.5" cy="2278.1" r="6.3"/><circle cx="1440.7" cy="2276.3" r="6.3"/><circle cx="1474.1" cy="2281.6" r="6.3"/><circle cx="1489.7" cy="2279.7" r="6.3"/><circle cx="1522.9" cy="2280.0" r="6.3"/><circle cx="1443.0" cy="2291.9" r="6.3"/><circle cx="1423.0" cy="2299.3" r="6.3"/><circle cx="1406.6" cy="2304.6" r="6.3"/><circle cx="1426.9" cy="2315.0" r="6.3"/><circle cx="1469.0" cy="2303.4" r="6.3"/><circle cx="1482.1" cy="2302.3" r="6.3"/><circle cx="1484.4" cy="2308.0" r="6.3"/><circle cx="1508.1" cy="2304.1" r="6.3"/><circle cx="1535.8" cy="2292.6" r="6.3"/><circle cx="1502.4" cy="2319.6" r="6.3"/><circle cx="1478.2" cy="2326.5" r="6.3"/><circle cx="1360.1" cy="2335.2" r="6.3"/><circle cx="1520.8" cy="2334.1" r="6.3"/><circle cx="1527.0" cy="2340.3" r="6.3"/><circle cx="1533.9" cy="2336.1" r="6.3"/><circle cx="1515.5" cy="2353.6" r="6.3"/><circle cx="1408.5" cy="2365.6" r="6.3"/><circle cx="1417.7" cy="2483.7" r="6.3"/><circle cx="1727.9" cy="2007.7" r="6.3"/><circle cx="1700.3" cy="2014.4" r="6.3"/><circle cx="1716.9" cy="2025.4" r="6.3"/><circle cx="1703.8" cy="2038.1" r="6.3"/><circle cx="1718.7" cy="2040.4" r="6.3"/><circle cx="1639.3" cy="2037.6" r="6.3"/><circle cx="1668.8" cy="2033.9" r="6.3"/><circle cx="1661.6" cy="2050.3" r="6.3"/><circle cx="1655.9" cy="2074.9" r="6.3"/><circle cx="1663.5" cy="2088.1" r="6.3"/><circle cx="1659.3" cy="2092.7" r="6.3"/><circle cx="1694.6" cy="2088.3" r="6.3"/><circle cx="1749.8" cy="2073.8" r="6.3"/><circle cx="1801.6" cy="2072.2" r="6.3"/><circle cx="1596.7" cy="2089.9" r="6.3"/><circle cx="1607.1" cy="2111.3" r="6.3"/><circle cx="1611.2" cy="2111.8" r="6.3"/><circle cx="1657.3" cy="2108.3" r="6.3"/><circle cx="1725.6" cy="2089.4" r="6.3"/><circle cx="1738.3" cy="2099.6" r="6.3"/><circle cx="1729.1" cy="2102.1" r="6.3"/><circle cx="1720.3" cy="2106.0" r="6.3"/><circle cx="1762.9" cy="2105.3" r="6.3"/><circle cx="1731.4" cy="2116.4" r="6.3"/><circle cx="1570.2" cy="2122.1" r="6.3"/><circle cx="1566.8" cy="2126.3" r="6.3"/><circle cx="1679.6" cy="2126.3" r="6.3"/><circle cx="1648.0" cy="2129.0" r="6.3"/><circle cx="1768.2" cy="2124.0" r="6.3"/><circle cx="1786.6" cy="2122.6" r="6.3"/><circle cx="1722.2" cy="2128.6" r="6.3"/><circle cx="1709.5" cy="2134.3" r="6.3"/><circle cx="1746.4" cy="2129.0" r="6.3"/><circle cx="1740.6" cy="2135.9" r="6.3"/><circle cx="1598.3" cy="2137.1" r="6.3"/><circle cx="1604.3" cy="2140.5" r="6.3"/><circle cx="1637.5" cy="2139.4" r="6.3"/><circle cx="1650.1" cy="2146.3" r="6.3"/><circle cx="1653.8" cy="2154.4" r="6.3"/><circle cx="1665.8" cy="2145.1" r="6.3"/><circle cx="1670.8" cy="2142.4" r="6.3"/><circle cx="1674.3" cy="2150.9" r="6.3"/><circle cx="1692.7" cy="2153.2" r="6.3"/><circle cx="1753.3" cy="2145.1" r="6.3"/><circle cx="1578.3" cy="2149.3" r="6.3"/><circle cx="1600.2" cy="2156.0" r="6.3"/><circle cx="1584.0" cy="2168.2" r="6.3"/><circle cx="1593.3" cy="2168.2" r="6.3"/><circle cx="1601.3" cy="2165.9" r="6.3"/><circle cx="1591.0" cy="2179.4" r="6.3"/><circle cx="1609.4" cy="2175.7" r="6.3"/><circle cx="1714.8" cy="2161.3" r="6.3"/><circle cx="1701.5" cy="2169.3" r="6.3"/><circle cx="1742.2" cy="2161.7" r="6.3"/><circle cx="1733.7" cy="2170.5" r="6.3"/><circle cx="1736.7" cy="2175.9" r="6.3"/><circle cx="1745.2" cy="2177.1" r="6.3"/><circle cx="1752.1" cy="2173.5" r="6.3"/><circle cx="1757.9" cy="2170.5" r="6.3"/><circle cx="1775.8" cy="2168.9" r="6.3"/><circle cx="1672.7" cy="2175.6" r="6.3"/><circle cx="1690.6" cy="2177.3" r="6.3"/><circle cx="1556.0" cy="2232.8" r="6.3"/><circle cx="1557.6" cy="2186.7" r="6.3"/><circle cx="1573.7" cy="2186.0" r="6.3"/><circle cx="1581.7" cy="2191.8" r="6.3"/><circle cx="1595.1" cy="2191.8" r="6.3"/><circle cx="1605.9" cy="2192.9" r="6.3"/><circle cx="1630.1" cy="2184.2" r="6.3"/><circle cx="1572.5" cy="2208.6" r="6.3"/><circle cx="1576.0" cy="2206.3" r="6.3"/><circle cx="1569.1" cy="2225.9" r="6.3"/><circle cx="1616.3" cy="2220.1" r="6.3"/><circle cx="1618.6" cy="2225.6" r="6.3"/><circle cx="1626.2" cy="2215.5" r="6.3"/><circle cx="1634.7" cy="2210.2" r="6.3"/><circle cx="1640.5" cy="2201.0" r="6.3"/><circle cx="1645.1" cy="2204.4" r="6.3"/><circle cx="1642.8" cy="2207.9" r="6.3"/><circle cx="1646.2" cy="2222.4" r="6.3"/><circle cx="1586.8" cy="2234.4" r="6.3"/><circle cx="1589.1" cy="2239.0" r="6.3"/><circle cx="1617.0" cy="2240.8" r="6.3"/><circle cx="1631.2" cy="2246.3" r="6.3"/><circle cx="1624.3" cy="2251.2" r="6.3"/><circle cx="1580.1" cy="2252.3" r="6.3"/><circle cx="1561.0" cy="2263.6" r="6.3"/><circle cx="1565.6" cy="2260.8" r="6.3"/><circle cx="1563.3" cy="2271.7" r="6.3"/><circle cx="1561.7" cy="2282.0" r="6.3"/><circle cx="1585.7" cy="2287.3" r="6.3"/><circle cx="1613.3" cy="2262.0" r="6.3"/><circle cx="1633.5" cy="2272.4" r="6.3"/><circle cx="1652.0" cy="2270.1" r="6.3"/><circle cx="1620.4" cy="2296.1" r="6.3"/><circle cx="1627.8" cy="2300.7" r="6.3"/><circle cx="1622.5" cy="2324.9" r="6.3"/><circle cx="1712.3" cy="2185.6" r="6.3"/><circle cx="1705.4" cy="2198.7" r="6.3"/><circle cx="1724.0" cy="2195.9" r="6.3"/><circle cx="1734.8" cy="2199.8" r="6.3"/><circle cx="1755.1" cy="2186.0" r="6.3"/><circle cx="1758.6" cy="2196.4" r="6.3"/><circle cx="1764.8" cy="2210.2" r="6.3"/><circle cx="1770.5" cy="2197.5" r="6.3"/><circle cx="1777.4" cy="2199.8" r="6.3"/><circle cx="1785.5" cy="2198.2" r="6.3"/><circle cx="1790.6" cy="2211.3" r="6.3"/><circle cx="1794.0" cy="2222.4" r="6.3"/><circle cx="1805.5" cy="2222.2" r="6.3"/><circle cx="1747.5" cy="2224.7" r="6.3"/><circle cx="1774.0" cy="2231.4" r="6.3"/><circle cx="1787.8" cy="2235.1" r="6.3"/><circle cx="1796.3" cy="2235.1" r="6.3"/><circle cx="1813.1" cy="2240.8" r="6.3"/><circle cx="1816.1" cy="2233.9" r="6.3"/><circle cx="1835.0" cy="2224.7" r="6.3"/><circle cx="1840.8" cy="2228.2" r="6.3"/><circle cx="1846.5" cy="2231.6" r="6.3"/><circle cx="1850.0" cy="2235.5" r="6.3"/><circle cx="1676.1" cy="2224.7" r="6.3"/><circle cx="1679.6" cy="2239.0" r="6.3"/><circle cx="1687.6" cy="2236.7" r="6.3"/><circle cx="1685.3" cy="2243.6" r="6.3"/><circle cx="1678.4" cy="2241.3" r="6.3"/><circle cx="1683.5" cy="2255.1" r="6.3"/><circle cx="1698.5" cy="2255.6" r="6.3"/><circle cx="1707.7" cy="2270.7" r="6.3"/><circle cx="1696.4" cy="2286.2" r="6.3"/><circle cx="1760.2" cy="2249.3" r="6.3"/><circle cx="1767.1" cy="2251.6" r="6.3"/><circle cx="1782.0" cy="2250.5" r="6.3"/><circle cx="1792.4" cy="2247.7" r="6.3"/><circle cx="1772.1" cy="2263.6" r="6.3"/><circle cx="1781.6" cy="2259.2" r="6.3"/><circle cx="1798.2" cy="2259.2" r="6.3"/><circle cx="1821.6" cy="2250.9" r="6.3"/><circle cx="1830.9" cy="2245.4" r="6.3"/><circle cx="1832.7" cy="2258.5" r="6.3"/><circle cx="1824.2" cy="2266.6" r="6.3"/><circle cx="1806.9" cy="2270.7" r="6.3"/><circle cx="1825.3" cy="2282.0" r="6.3"/><circle cx="1846.5" cy="2264.3" r="6.3"/><circle cx="1851.6" cy="2263.1" r="6.3"/><circle cx="1800.0" cy="2294.2" r="6.3"/><circle cx="1810.8" cy="2307.6" r="6.3"/><circle cx="1820.0" cy="2326.9" r="6.3"/><circle cx="1809.7" cy="2331.8" r="6.3"/><circle cx="1818.2" cy="2341.4" r="6.3"/><circle cx="1803.5" cy="2347.6" r="6.3"/><circle cx="1837.3" cy="2341.4" r="6.3"/><circle cx="1843.1" cy="2339.1" r="6.3"/><circle cx="1848.8" cy="2341.4" r="6.3"/><circle cx="1840.8" cy="2344.9" r="6.3"/><circle cx="1779.3" cy="2368.4" r="6.3"/><circle cx="1827.6" cy="2381.3" r="6.3"/></g><rect x="226" y="1859" width="1657.5" height="638" fill="none" stroke="#000" stroke-width="6.2"/><g font-family="&quot;Liberation Sans&quot;, sans-serif" font-weight="bold" font-size="43.5" fill="#000"><text x="258.00" y="2562.6" text-anchor="middle">0</text><text x="390.96" y="2562.6" text-anchor="middle">6</text><text x="523.92" y="2562.6" text-anchor="middle">12</text><text x="656.88" y="2562.6" text-anchor="middle">18</text><text x="789.84" y="2562.6" text-anchor="middle">24</text><text x="922.80" y="2562.6" text-anchor="middle">30</text><text x="1055.76" y="2562.6" text-anchor="middle">36</text><text x="1188.72" y="2562.6" text-anchor="middle">42</text><text x="1321.68" y="2562.6" text-anchor="middle">48</text><text x="1454.64" y="2562.6" text-anchor="middle">54</text><text x="1587.60" y="2562.6" text-anchor="middle">60</text><text x="1720.56" y="2562.6" text-anchor="middle">66</text><text x="1853.52" y="2562.6" text-anchor="middle">72</text><text x="190.7" y="1879.5" text-anchor="end">80</text><text x="190.7" y="1997.4" text-anchor="end">60</text><text x="190.7" y="2115.3" text-anchor="end">40</text><text x="190.7" y="2233.2" text-anchor="end">20</text><text x="190.7" y="2351.1" text-anchor="end">0</text><text x="190.7" y="2469.0" text-anchor="end">−20</text></g><rect x="226" y="2726" width="1657.5" height="153" fill="none" stroke="#000" stroke-width="6.2"/></svg>
</body></html>
